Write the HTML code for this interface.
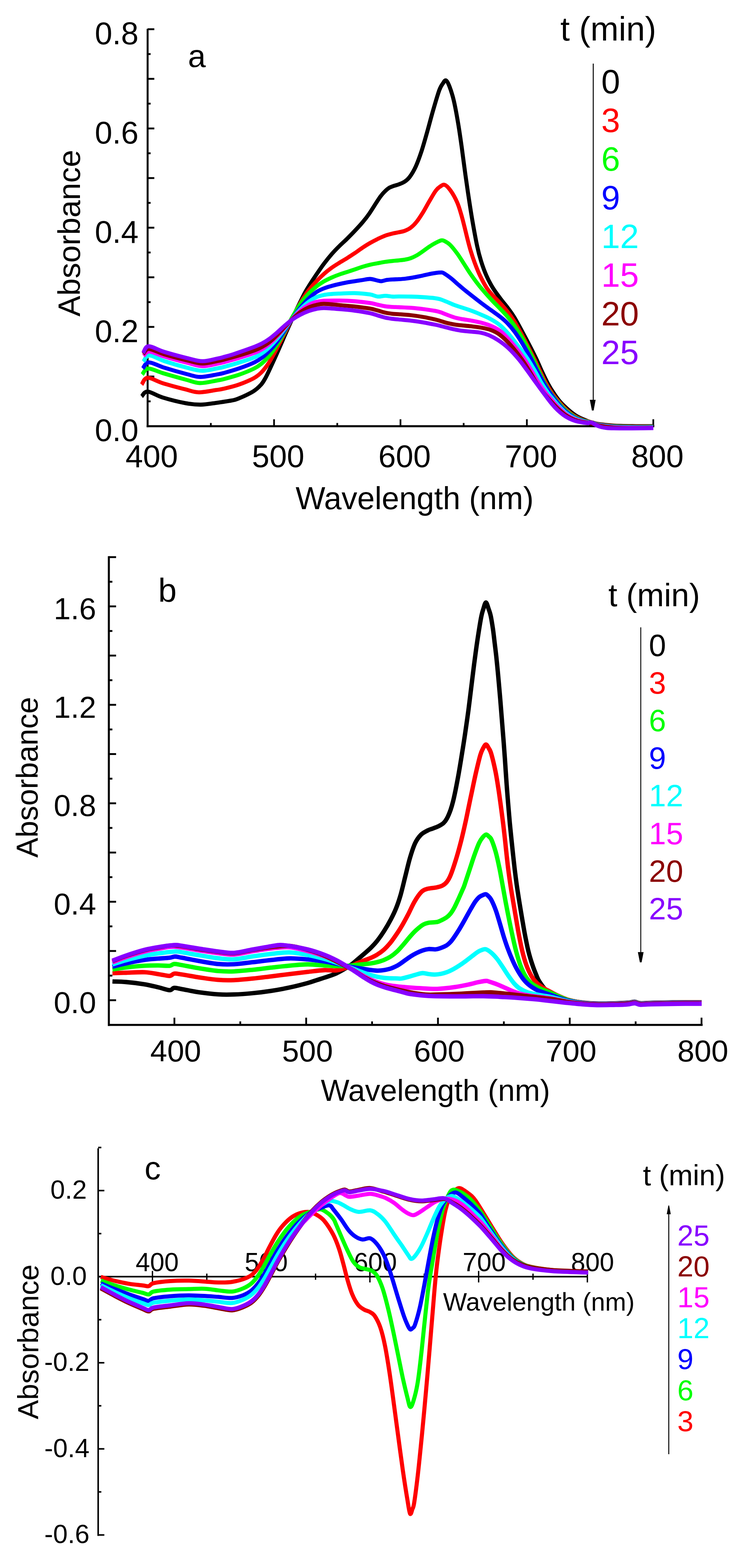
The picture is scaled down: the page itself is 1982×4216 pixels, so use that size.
<!DOCTYPE html>
<html><head><meta charset="utf-8"><title>Absorbance spectra</title>
<style>html,body{margin:0;padding:0;background:#fff;}svg{display:block;}</style></head>
<body><svg width="1982" height="4216" viewBox="0 0 1982 4216" font-family="Liberation Sans, Arial, sans-serif">
<rect width="1982" height="4216" fill="#fff"/>
<line x1="397.0" y1="77.5" x2="397.0" y2="1148.8" stroke="#000" stroke-width="5.2" stroke-linecap="butt"/>
<line x1="394.4" y1="1146.0" x2="1759.5" y2="1146.0" stroke="#000" stroke-width="5.4" stroke-linecap="butt"/>
<line x1="397.0" y1="1079.1" x2="405.0" y2="1079.1" stroke="#000" stroke-width="5.0" stroke-linecap="butt"/>
<line x1="397.0" y1="1012.4" x2="415.0" y2="1012.4" stroke="#000" stroke-width="5.0" stroke-linecap="butt"/>
<line x1="397.0" y1="945.7" x2="405.0" y2="945.7" stroke="#000" stroke-width="5.0" stroke-linecap="butt"/>
<line x1="397.0" y1="879.0" x2="415.0" y2="879.0" stroke="#000" stroke-width="5.0" stroke-linecap="butt"/>
<line x1="397.0" y1="812.3" x2="405.0" y2="812.3" stroke="#000" stroke-width="5.0" stroke-linecap="butt"/>
<line x1="397.0" y1="745.6" x2="415.0" y2="745.6" stroke="#000" stroke-width="5.0" stroke-linecap="butt"/>
<line x1="397.0" y1="678.9" x2="405.0" y2="678.9" stroke="#000" stroke-width="5.0" stroke-linecap="butt"/>
<line x1="397.0" y1="612.2" x2="415.0" y2="612.2" stroke="#000" stroke-width="5.0" stroke-linecap="butt"/>
<line x1="397.0" y1="545.5" x2="405.0" y2="545.5" stroke="#000" stroke-width="5.0" stroke-linecap="butt"/>
<line x1="397.0" y1="478.8" x2="415.0" y2="478.8" stroke="#000" stroke-width="5.0" stroke-linecap="butt"/>
<line x1="397.0" y1="412.1" x2="405.0" y2="412.1" stroke="#000" stroke-width="5.0" stroke-linecap="butt"/>
<line x1="397.0" y1="345.4" x2="415.0" y2="345.4" stroke="#000" stroke-width="5.0" stroke-linecap="butt"/>
<line x1="397.0" y1="278.7" x2="405.0" y2="278.7" stroke="#000" stroke-width="5.0" stroke-linecap="butt"/>
<line x1="397.0" y1="212.0" x2="415.0" y2="212.0" stroke="#000" stroke-width="5.0" stroke-linecap="butt"/>
<line x1="397.0" y1="145.3" x2="405.0" y2="145.3" stroke="#000" stroke-width="5.0" stroke-linecap="butt"/>
<line x1="397.0" y1="78.6" x2="415.0" y2="78.6" stroke="#000" stroke-width="5.0" stroke-linecap="butt"/>
<line x1="567.0" y1="1146.0" x2="567.0" y2="1137.3" stroke="#000" stroke-width="4.6" stroke-linecap="butt"/>
<line x1="737.0" y1="1146.0" x2="737.0" y2="1127.3" stroke="#000" stroke-width="4.6" stroke-linecap="butt"/>
<line x1="907.0" y1="1146.0" x2="907.0" y2="1137.3" stroke="#000" stroke-width="4.6" stroke-linecap="butt"/>
<line x1="1077.0" y1="1146.0" x2="1077.0" y2="1127.3" stroke="#000" stroke-width="4.6" stroke-linecap="butt"/>
<line x1="1246.9" y1="1146.0" x2="1246.9" y2="1137.3" stroke="#000" stroke-width="4.6" stroke-linecap="butt"/>
<line x1="1416.9" y1="1146.0" x2="1416.9" y2="1127.3" stroke="#000" stroke-width="4.6" stroke-linecap="butt"/>
<line x1="1586.9" y1="1146.0" x2="1586.9" y2="1137.3" stroke="#000" stroke-width="4.6" stroke-linecap="butt"/>
<line x1="1756.9" y1="1146.0" x2="1756.9" y2="1127.3" stroke="#000" stroke-width="4.6" stroke-linecap="butt"/>
<text x="372.5" y="1186.3" font-size="84.5" text-anchor="end" fill="#000" >0.0</text>
<text x="372.5" y="919.5" font-size="84.5" text-anchor="end" fill="#000" >0.2</text>
<text x="372.5" y="652.7" font-size="84.5" text-anchor="end" fill="#000" >0.4</text>
<text x="372.5" y="385.9" font-size="84.5" text-anchor="end" fill="#000" >0.6</text>
<text x="372.5" y="119.1" font-size="84.5" text-anchor="end" fill="#000" >0.8</text>
<text x="408.0" y="1255.5" font-size="84.5" text-anchor="middle" fill="#000" >400</text>
<text x="748.0" y="1255.5" font-size="84.5" text-anchor="middle" fill="#000" >500</text>
<text x="1088.0" y="1255.5" font-size="84.5" text-anchor="middle" fill="#000" >600</text>
<text x="1427.9" y="1255.5" font-size="84.5" text-anchor="middle" fill="#000" >700</text>
<text x="1767.9" y="1255.5" font-size="84.5" text-anchor="middle" fill="#000" >800</text>
<text x="1115.0" y="1369.0" font-size="84.5" text-anchor="middle" fill="#000" >Wavelength (nm)</text>
<text transform="translate(214.5,627) rotate(-90)" font-size="84" text-anchor="middle">Absorbance</text>
<text x="529.5" y="180.0" font-size="86.0" text-anchor="middle" fill="#000" >a</text>
<text x="1507.0" y="109.0" font-size="91.0" text-anchor="start" fill="#000" >t (min)</text>
<line x1="1595.4" y1="171.0" x2="1595.4" y2="1080.0" stroke="#000" stroke-width="2.6" stroke-linecap="butt"/>
<path d="M1586.2,1075 L1601.8,1075 L1596.4,1103.7 L1591.8,1103.7 Z" fill="#000"/>
<text x="1617.0" y="250.6" font-size="91.0" text-anchor="start" fill="#000000" >0</text>
<text x="1617.0" y="354.6" font-size="91.0" text-anchor="start" fill="#ff0000" >3</text>
<text x="1617.0" y="458.7" font-size="91.0" text-anchor="start" fill="#00ff00" >6</text>
<text x="1617.0" y="562.8" font-size="91.0" text-anchor="start" fill="#0000ff" >9</text>
<text x="1617.0" y="666.8" font-size="91.0" text-anchor="start" fill="#00ffff" >12</text>
<text x="1617.0" y="770.9" font-size="91.0" text-anchor="start" fill="#ff00ff" >15</text>
<text x="1617.0" y="874.9" font-size="91.0" text-anchor="start" fill="#8b0000" >20</text>
<text x="1617.0" y="979.0" font-size="91.0" text-anchor="start" fill="#8800ff" >25</text>
<path d="M381.0,1066.0 C383.7,1063.8 387.5,1052.3 397.0,1052.8 C406.5,1053.3 420.7,1063.6 437.8,1068.8 C454.8,1074.0 482.3,1080.9 499.4,1084.1 C516.4,1087.3 526.4,1088.1 540.0,1088.0 C553.6,1087.9 567.2,1085.1 580.9,1083.3 C594.7,1081.4 612.6,1078.8 622.6,1076.9 C632.6,1075.0 631.1,1075.9 640.9,1071.8 C650.7,1067.7 671.0,1058.5 681.1,1052.3 C691.3,1046.2 696.3,1040.6 701.6,1034.8 C707.0,1028.9 709.7,1023.7 713.3,1017.3 C717.0,1010.9 718.4,1007.7 723.6,996.7 C728.8,985.6 737.4,966.7 744.3,951.2 C751.3,935.8 759.8,915.8 765.0,903.8 C770.3,891.8 770.8,890.6 775.9,879.2 C781.1,867.8 788.9,850.3 795.9,835.6 C802.9,820.9 812.3,801.8 817.9,790.9 C823.6,780.1 824.3,779.3 829.8,770.5 C835.3,761.6 844.1,748.1 851.1,737.8 C858.1,727.6 864.6,718.0 871.5,708.8 C878.5,699.5 885.8,690.4 892.7,682.5 C899.6,674.6 906.1,668.1 912.8,661.5 C919.6,654.8 926.2,649.0 933.0,642.3 C939.7,635.7 946.4,629.0 953.4,621.5 C960.4,614.1 968.5,605.5 975.0,597.7 C981.6,589.9 984.8,586.3 992.8,574.7 C1000.8,563.2 1014.7,539.7 1023.0,528.5 C1031.3,517.4 1036.9,512.5 1042.5,507.9 C1048.1,503.2 1051.4,502.9 1056.4,500.8 C1061.4,498.8 1067.1,497.8 1072.4,495.8 C1077.7,493.7 1083.2,491.8 1088.1,488.5 C1093.0,485.2 1096.6,482.8 1101.6,476.0 C1106.7,469.2 1112.8,459.2 1118.1,447.7 C1123.4,436.1 1128.4,422.1 1133.5,406.8 C1138.5,391.4 1143.3,374.0 1148.6,355.5 C1153.8,337.0 1159.6,314.4 1165.1,295.6 C1170.5,276.8 1177.0,254.5 1181.3,242.6 C1185.7,230.7 1188.1,228.8 1191.0,224.4 C1194.0,220.0 1196.3,215.0 1199.2,216.1 C1202.1,217.2 1204.8,222.3 1208.3,231.3 C1211.8,240.3 1216.4,253.7 1220.3,270.2 C1224.2,286.6 1228.3,309.3 1231.8,330.1 C1235.4,350.9 1238.3,371.8 1241.6,395.1 C1244.8,418.4 1248.3,446.6 1251.6,469.9 C1254.8,493.2 1257.8,513.6 1261.1,535.0 C1264.3,556.3 1267.5,576.8 1271.2,598.0 C1274.9,619.1 1279.4,644.3 1283.2,661.7 C1286.9,679.2 1289.8,689.6 1293.9,702.7 C1298.0,715.9 1302.7,728.9 1307.9,740.6 C1313.0,752.4 1318.7,763.1 1325.0,773.4 C1331.2,783.6 1338.4,793.0 1345.3,802.2 C1352.1,811.4 1359.8,820.2 1366.2,828.7 C1372.5,837.2 1376.4,842.0 1383.2,853.3 C1390.1,864.7 1400.1,883.5 1407.2,896.7 C1414.3,909.8 1420.0,920.6 1425.9,932.1 C1431.8,943.5 1437.4,954.6 1442.6,965.5 C1447.8,976.4 1451.8,986.7 1456.9,997.6 C1462.0,1008.5 1467.8,1020.7 1473.2,1030.7 C1478.6,1040.7 1483.2,1048.4 1489.6,1057.6 C1495.9,1066.8 1501.8,1075.9 1511.4,1085.7 C1521.1,1095.5 1535.7,1108.7 1547.2,1116.4 C1558.7,1124.2 1572.3,1128.8 1580.2,1132.2 C1588.2,1135.5 1589.6,1135.3 1594.8,1136.6 C1600.0,1138.0 1602.2,1139.1 1611.4,1140.4 C1620.6,1141.7 1635.3,1143.5 1650.0,1144.4 C1664.8,1145.3 1682.2,1145.5 1700.0,1145.7 C1717.8,1146.0 1747.5,1146.0 1757.0,1146.0" fill="none" stroke="#000000" stroke-width="10.8" stroke-linejoin="round" stroke-linecap="butt"/>
<path d="M381.0,1034.0 C383.7,1030.9 387.6,1016.2 397.0,1015.6 C406.4,1015.0 420.6,1025.0 437.6,1030.3 C454.6,1035.5 483.0,1043.0 499.1,1047.1 C515.2,1051.2 520.4,1054.5 534.0,1054.8 C547.6,1055.1 570.0,1050.2 581.0,1048.7 C592.0,1047.1 589.9,1047.8 599.9,1045.5 C609.8,1043.2 627.3,1039.3 640.8,1034.6 C654.4,1029.9 671.2,1022.8 681.4,1017.4 C691.6,1012.0 695.4,1008.7 702.2,1002.0 C709.0,995.2 715.0,987.8 722.1,977.0 C729.1,966.1 737.3,950.5 744.5,936.9 C751.7,923.4 758.6,909.1 765.4,895.7 C772.2,882.3 778.6,869.7 785.6,856.3 C792.6,842.9 800.2,827.7 807.3,815.5 C814.4,803.3 821.0,792.9 828.3,783.0 C835.6,773.1 843.7,764.1 850.9,756.3 C858.2,748.5 864.9,742.1 871.8,736.0 C878.7,729.9 885.6,724.6 892.4,719.7 C899.2,714.8 905.8,710.8 912.6,706.6 C919.4,702.3 926.4,698.5 933.2,694.2 C940.0,690.0 946.4,685.8 953.4,681.1 C960.4,676.4 968.0,670.6 975.0,666.0 C982.0,661.4 988.6,657.2 995.4,653.3 C1002.2,649.4 1008.9,645.9 1015.8,642.5 C1022.7,639.2 1030.1,635.8 1036.9,633.3 C1043.6,630.8 1050.4,629.1 1056.3,627.7 C1062.3,626.2 1067.3,625.7 1072.6,624.5 C1078.0,623.3 1083.2,622.6 1088.5,620.6 C1093.8,618.6 1098.9,616.4 1104.3,612.4 C1109.6,608.4 1114.8,603.4 1120.3,596.5 C1125.9,589.6 1131.8,580.2 1137.5,571.1 C1143.1,562.0 1148.4,551.6 1154.1,542.0 C1159.8,532.4 1166.6,520.0 1171.5,513.4 C1176.3,506.7 1179.0,504.8 1183.1,502.1 C1187.2,499.3 1191.2,495.3 1196.0,497.0 C1200.8,498.7 1206.1,504.6 1211.7,512.4 C1217.3,520.2 1224.6,533.2 1229.3,543.9 C1234.1,554.6 1237.1,565.6 1240.3,576.5 C1243.6,587.4 1246.2,598.4 1249.0,609.4 C1251.8,620.4 1254.3,631.5 1257.1,642.4 C1259.9,653.4 1262.6,664.2 1266.0,675.2 C1269.3,686.2 1273.1,697.4 1277.3,708.4 C1281.4,719.4 1285.7,730.4 1290.9,741.2 C1296.1,752.0 1302.7,764.4 1308.4,773.3 C1314.2,782.2 1319.4,787.6 1325.5,794.5 C1331.6,801.4 1338.3,807.5 1344.9,814.8 C1351.5,822.0 1358.4,829.7 1364.9,838.1 C1371.4,846.4 1377.6,855.1 1383.8,864.9 C1389.9,874.7 1395.8,885.7 1401.8,896.9 C1407.9,908.1 1414.2,920.5 1420.1,931.9 C1426.0,943.4 1431.8,954.4 1437.1,965.4 C1442.5,976.4 1447.1,987.0 1452.3,997.9 C1457.5,1008.7 1463.0,1020.6 1468.4,1030.6 C1473.8,1040.5 1479.4,1049.6 1484.8,1057.5 C1490.1,1065.3 1494.1,1070.3 1500.4,1077.6 C1506.7,1084.9 1515.1,1094.2 1522.6,1101.1 C1530.0,1108.0 1537.9,1114.3 1545.2,1118.9 C1552.5,1123.5 1559.8,1126.3 1566.1,1128.7 C1572.4,1131.2 1578.3,1132.4 1583.1,1133.8 C1587.9,1135.2 1590.1,1135.9 1594.8,1137.1 C1599.5,1138.3 1602.2,1139.7 1611.4,1141.1 C1620.6,1142.4 1635.3,1144.3 1650.0,1145.3 C1664.8,1146.3 1682.2,1146.7 1700.0,1146.9 C1717.8,1147.1 1747.5,1146.8 1757.0,1146.8" fill="none" stroke="#ff0000" stroke-width="10.8" stroke-linejoin="round" stroke-linecap="butt"/>
<path d="M382.5,1007.0 C385.2,1004.3 389.1,991.4 398.5,990.8 C407.9,990.2 421.6,998.5 438.6,1003.5 C455.7,1008.6 484.2,1016.7 500.7,1021.1 C517.2,1025.5 523.9,1029.6 537.5,1030.0 C551.1,1030.4 571.7,1025.1 582.4,1023.3 C593.0,1021.5 591.5,1022.0 601.5,1019.4 C611.5,1016.8 628.7,1012.4 642.4,1007.7 C656.0,1002.9 673.0,996.0 683.2,991.0 C693.5,985.9 697.1,983.0 703.9,977.3 C710.8,971.6 717.5,964.7 724.3,956.6 C731.0,948.4 737.8,938.7 744.5,928.2 C751.3,917.6 757.7,905.8 764.7,893.2 C771.6,880.6 778.9,865.3 786.2,852.5 C793.5,839.7 800.9,826.8 808.2,816.3 C815.6,805.8 823.1,797.0 830.3,789.3 C837.5,781.5 844.7,775.2 851.6,769.7 C858.4,764.3 864.8,760.4 871.5,756.4 C878.3,752.5 885.2,749.3 892.1,746.2 C899.0,743.1 905.9,740.4 912.8,738.0 C919.6,735.5 926.4,733.5 933.2,731.3 C940.0,729.1 946.8,727.0 953.7,724.7 C960.6,722.4 967.7,719.5 974.7,717.4 C981.6,715.2 988.6,713.3 995.4,711.7 C1002.2,710.1 1008.8,709.0 1015.6,707.8 C1022.5,706.5 1029.8,705.1 1036.6,704.0 C1043.3,703.0 1050.3,702.3 1056.3,701.6 C1062.3,701.0 1067.2,700.7 1072.6,700.1 C1078.0,699.5 1083.5,699.1 1088.8,698.1 C1094.2,697.1 1099.4,696.1 1104.8,694.1 C1110.2,692.2 1115.7,689.5 1121.2,686.4 C1126.6,683.3 1132.0,679.3 1137.6,675.4 C1143.1,671.5 1149.0,666.8 1154.5,663.2 C1160.0,659.5 1165.3,656.3 1170.7,653.5 C1176.1,650.7 1182.7,647.2 1186.8,646.3 C1190.9,645.4 1191.5,646.1 1195.5,648.1 C1199.5,650.2 1204.8,652.8 1210.6,658.5 C1216.4,664.2 1224.0,674.1 1230.1,682.4 C1236.2,690.7 1241.4,699.7 1247.1,708.4 C1252.8,717.2 1258.5,726.6 1264.1,734.8 C1269.7,743.0 1275.0,750.4 1280.5,757.6 C1285.9,764.9 1290.0,770.1 1296.8,778.0 C1303.5,786.0 1312.8,796.5 1320.9,805.2 C1328.9,813.9 1337.9,822.6 1345.2,830.3 C1352.5,838.0 1358.1,843.5 1364.7,851.3 C1371.2,859.0 1376.9,865.9 1384.4,876.8 C1391.8,887.7 1400.9,901.9 1409.2,916.6 C1417.5,931.4 1427.3,951.6 1434.0,965.2 C1440.7,978.7 1444.0,987.0 1449.1,997.9 C1454.3,1008.8 1459.6,1020.7 1465.0,1030.6 C1470.4,1040.5 1475.4,1048.7 1481.5,1057.3 C1487.5,1065.9 1494.5,1074.5 1501.4,1082.3 C1508.3,1090.2 1515.6,1098.0 1522.9,1104.4 C1530.2,1110.8 1537.9,1116.5 1545.1,1120.8 C1552.3,1125.1 1559.8,1127.7 1566.1,1129.9 C1572.4,1132.2 1578.3,1133.2 1583.1,1134.4 C1587.8,1135.7 1590.1,1136.4 1594.8,1137.6 C1599.5,1138.8 1602.2,1140.3 1611.4,1141.8 C1620.6,1143.2 1635.3,1145.2 1650.0,1146.2 C1664.8,1147.2 1682.2,1147.6 1700.0,1147.8 C1717.8,1148.0 1747.5,1147.5 1757.0,1147.5" fill="none" stroke="#00ff00" stroke-width="10.8" stroke-linejoin="round" stroke-linecap="butt"/>
<path d="M384.0,990.8 C386.7,988.0 390.6,974.8 400.0,974.3 C409.4,973.8 423.2,982.8 440.2,988.1 C457.3,993.4 485.9,1001.6 502.3,1005.9 C518.8,1010.1 525.4,1013.4 539.0,1013.5 C552.6,1013.6 573.2,1008.6 583.9,1006.7 C594.5,1004.9 592.8,1005.3 602.9,1002.6 C612.9,999.8 630.5,994.8 644.1,990.1 C657.8,985.4 674.4,979.0 684.6,974.1 C694.9,969.3 698.8,966.2 705.6,961.0 C712.4,955.7 719.1,949.3 725.6,942.4 C732.1,935.6 737.9,928.6 744.5,919.7 C751.1,910.9 758.2,899.9 765.1,889.4 C772.1,878.8 779.3,866.9 786.3,856.7 C793.3,846.5 799.8,837.3 807.2,828.2 C814.6,819.0 823.1,809.3 830.6,802.1 C838.0,794.8 844.9,789.3 851.7,784.8 C858.6,780.3 864.8,777.8 871.5,775.2 C878.2,772.5 885.1,770.7 892.0,768.7 C898.8,766.8 905.8,765.1 912.7,763.6 C919.5,762.0 926.4,760.7 933.2,759.4 C940.1,758.2 947.0,757.2 953.9,756.1 C960.8,755.0 967.6,754.0 974.5,753.0 C981.4,752.0 988.3,749.8 995.2,750.0 C1002.1,750.2 1010.7,753.5 1015.9,754.5 C1021.0,755.5 1021.9,756.3 1026.0,756.0 C1030.1,755.7 1035.1,753.5 1040.2,752.7 C1045.2,751.9 1050.9,751.6 1056.3,751.3 C1061.7,751.0 1067.2,751.0 1072.6,750.7 C1078.0,750.4 1083.4,750.1 1088.9,749.5 C1094.3,748.9 1099.7,748.1 1105.2,747.2 C1110.6,746.3 1116.1,745.2 1121.5,744.1 C1126.9,743.0 1132.3,741.9 1137.8,740.7 C1143.2,739.5 1148.7,738.1 1154.1,737.0 C1159.6,735.9 1165.0,734.8 1170.5,734.1 C1175.9,733.4 1183.0,732.6 1186.8,732.7 C1190.6,732.8 1189.0,731.9 1193.5,734.6 C1197.9,737.2 1207.3,743.7 1213.6,748.7 C1219.9,753.6 1225.6,759.3 1231.2,764.2 C1236.8,769.0 1241.9,773.4 1247.3,777.9 C1252.8,782.3 1256.2,785.0 1263.8,791.0 C1271.4,797.0 1283.6,806.6 1293.0,813.7 C1302.4,820.9 1311.5,827.3 1320.2,833.7 C1328.9,840.0 1337.8,845.9 1345.1,851.8 C1352.5,857.6 1357.7,861.9 1364.3,868.7 C1370.8,875.5 1377.4,883.2 1384.3,892.6 C1391.2,902.0 1398.5,913.1 1405.8,925.2 C1413.2,937.3 1422.0,953.3 1428.6,965.4 C1435.2,977.5 1439.9,987.5 1445.3,997.9 C1450.7,1008.2 1455.7,1018.1 1461.2,1027.7 C1466.8,1037.3 1471.8,1045.7 1478.7,1055.5 C1485.6,1065.4 1495.1,1078.0 1502.5,1086.7 C1509.9,1095.4 1516.0,1101.6 1523.1,1107.6 C1530.2,1113.6 1537.8,1118.8 1544.9,1122.7 C1552.1,1126.7 1559.8,1129.1 1566.1,1131.1 C1572.5,1133.2 1578.2,1133.9 1583.0,1135.1 C1587.8,1136.3 1590.0,1136.9 1594.8,1138.1 C1599.5,1139.4 1602.2,1140.9 1611.5,1142.4 C1620.7,1144.0 1635.3,1146.1 1650.1,1147.2 C1664.8,1148.2 1682.2,1148.5 1700.0,1148.7 C1717.8,1148.9 1747.5,1148.3 1757.0,1148.2" fill="none" stroke="#0000ff" stroke-width="10.8" stroke-linejoin="round" stroke-linecap="butt"/>
<path d="M385.5,972.3 C388.2,969.5 392.1,955.9 401.5,955.7 C410.9,955.5 424.9,965.5 441.9,971.0 C459.0,976.6 486.8,984.7 503.9,989.1 C521.0,993.4 530.9,996.8 544.5,997.0 C558.1,997.2 575.4,992.1 585.4,990.3 C595.4,988.5 594.3,988.7 604.4,986.0 C614.5,983.3 632.2,978.4 645.8,974.0 C659.5,969.7 676.1,964.1 686.3,959.9 C696.4,955.6 700.0,953.1 706.6,948.5 C713.2,943.9 719.5,938.4 725.8,932.2 C732.1,926.0 738.1,919.4 744.6,911.6 C751.1,903.7 758.1,894.3 765.0,885.2 C772.0,876.0 779.3,865.6 786.3,856.8 C793.3,848.0 799.7,840.0 807.2,832.3 C814.6,824.7 823.5,816.5 830.8,810.9 C838.2,805.4 844.5,801.9 851.2,798.9 C858.0,795.9 864.7,794.4 871.4,793.0 C878.2,791.6 885.1,791.1 891.9,790.5 C898.8,789.8 902.3,789.7 912.6,789.3 C922.9,789.0 940.2,787.7 953.9,788.1 C967.6,788.5 984.4,790.1 994.7,791.7 C1005.0,793.2 1008.8,796.8 1015.8,797.4 C1022.8,798.0 1029.7,795.3 1036.4,795.3 C1043.2,795.3 1050.3,797.2 1056.3,797.5 C1062.3,797.8 1064.5,797.2 1072.6,797.2 C1080.7,797.2 1094.3,797.2 1105.2,797.5 C1116.1,797.8 1126.9,798.3 1137.8,799.0 C1148.6,799.7 1162.5,800.8 1170.3,801.8 C1178.1,802.8 1179.7,803.3 1184.7,804.8 C1189.8,806.4 1194.3,808.5 1200.5,811.0 C1206.7,813.6 1215.1,817.5 1221.7,820.1 C1228.3,822.6 1232.6,823.7 1239.9,826.2 C1247.3,828.6 1256.9,831.5 1265.7,834.7 C1274.6,838.0 1283.9,841.7 1292.9,845.6 C1301.8,849.4 1311.0,853.2 1319.5,857.9 C1328.1,862.6 1336.2,867.4 1344.2,874.0 C1352.1,880.6 1359.0,887.9 1367.4,897.5 C1375.8,907.1 1386.0,920.4 1394.7,931.8 C1403.4,943.2 1412.2,954.8 1419.6,965.9 C1426.9,977.0 1432.8,987.5 1439.0,998.3 C1445.2,1009.0 1450.7,1020.6 1456.6,1030.4 C1462.5,1040.3 1469.9,1050.9 1474.4,1057.3 C1478.9,1063.6 1478.8,1063.0 1483.6,1068.7 C1488.3,1074.4 1496.4,1084.4 1502.9,1091.4 C1509.5,1098.4 1516.1,1105.3 1523.0,1110.9 C1530.0,1116.4 1537.6,1121.1 1544.8,1124.7 C1552.0,1128.3 1559.8,1130.5 1566.1,1132.3 C1572.5,1134.1 1578.2,1134.7 1583.0,1135.7 C1587.8,1136.8 1590.0,1137.4 1594.7,1138.7 C1599.5,1139.9 1602.3,1141.6 1611.5,1143.1 C1620.7,1144.7 1635.3,1147.0 1650.1,1148.1 C1664.8,1149.2 1682.2,1149.4 1700.0,1149.6 C1717.8,1149.8 1747.5,1149.1 1757.0,1149.0" fill="none" stroke="#00ffff" stroke-width="10.8" stroke-linejoin="round" stroke-linecap="butt"/>
<path d="M386.0,957.0 C388.5,955.0 391.6,944.7 401.0,945.0 C410.4,945.3 425.1,953.7 442.3,958.8 C459.5,963.9 487.1,971.3 504.2,975.6 C521.3,979.9 531.4,984.3 545.0,984.6 C558.6,984.9 575.8,979.5 585.8,977.6 C595.8,975.6 595.0,975.8 605.0,973.1 C615.1,970.4 632.6,965.6 646.2,961.4 C659.8,957.2 676.5,951.9 686.5,948.0 C696.5,944.2 699.6,942.2 706.1,938.2 C712.6,934.2 719.0,929.3 725.3,923.9 C731.6,918.4 737.3,912.6 744.0,905.5 C750.7,898.4 758.6,889.1 765.5,881.3 C772.4,873.4 778.5,865.8 785.5,858.2 C792.6,850.5 800.3,841.8 807.8,835.3 C815.4,828.8 823.5,823.3 830.7,819.4 C837.9,815.5 844.1,813.5 850.8,811.8 C857.6,810.0 861.1,809.3 871.4,808.7 C881.7,808.1 898.8,808.0 912.6,808.2 C926.3,808.4 940.2,809.0 953.9,810.0 C967.6,811.1 984.5,813.2 994.8,814.7 C1005.2,816.3 1009.1,817.9 1016.0,819.4 C1022.9,820.9 1029.8,822.6 1036.5,823.6 C1043.2,824.6 1050.3,825.0 1056.3,825.4 C1062.3,825.8 1064.5,825.6 1072.6,826.0 C1080.7,826.4 1094.3,826.9 1105.2,827.7 C1116.0,828.6 1126.9,829.6 1137.8,831.0 C1148.6,832.4 1162.5,834.5 1170.3,835.9 C1178.2,837.4 1179.7,838.1 1184.8,839.7 C1189.8,841.3 1194.6,843.5 1200.7,845.8 C1206.8,848.1 1215.0,851.4 1221.5,853.4 C1228.1,855.4 1232.7,856.2 1240.1,857.6 C1247.5,859.0 1257.1,860.1 1265.9,861.7 C1274.6,863.3 1283.7,865.0 1292.7,867.3 C1301.6,869.7 1311.1,872.3 1319.6,876.0 C1328.2,879.6 1337.1,884.2 1344.2,889.1 C1351.2,893.9 1355.1,897.9 1361.9,905.1 C1368.8,912.3 1377.2,922.2 1385.3,932.4 C1393.4,942.5 1402.9,954.7 1410.4,965.7 C1418.0,976.7 1424.1,987.5 1430.5,998.3 C1436.9,1009.0 1442.7,1020.5 1449.0,1030.4 C1455.2,1040.2 1462.2,1049.7 1468.0,1057.1 C1473.7,1064.6 1477.6,1068.5 1483.4,1075.0 C1489.2,1081.5 1496.1,1089.6 1502.7,1096.1 C1509.2,1102.6 1515.8,1109.0 1522.8,1114.1 C1529.8,1119.2 1537.4,1123.5 1544.6,1126.7 C1551.9,1129.9 1559.7,1131.9 1566.1,1133.5 C1572.5,1135.1 1578.2,1135.5 1583.0,1136.4 C1587.7,1137.4 1590.0,1138.0 1594.7,1139.2 C1599.5,1140.4 1602.3,1142.2 1611.5,1143.8 C1620.8,1145.5 1635.3,1147.9 1650.1,1149.0 C1664.8,1150.1 1682.2,1150.4 1700.0,1150.5 C1717.8,1150.6 1747.5,1149.9 1757.0,1149.8" fill="none" stroke="#ff00ff" stroke-width="10.8" stroke-linejoin="round" stroke-linecap="butt"/>
<path d="M385.2,952.0 C387.7,949.7 390.5,937.8 400.0,938.0 C409.4,938.2 424.8,947.7 442.0,952.9 C459.3,958.1 486.6,965.1 503.7,969.2 C520.7,973.3 530.9,977.1 544.5,977.4 C558.1,977.7 575.2,972.6 585.2,970.8 C595.2,968.9 594.6,968.9 604.6,966.3 C614.7,963.6 632.2,959.0 645.6,954.9 C659.1,950.8 675.6,945.6 685.5,941.8 C695.5,938.1 698.9,936.1 705.5,932.4 C712.0,928.7 718.2,924.6 724.7,919.6 C731.1,914.6 737.1,909.1 743.9,902.4 C750.7,895.7 758.6,886.7 765.6,879.3 C772.6,872.0 778.9,864.8 785.9,858.1 C792.9,851.5 800.1,844.8 807.5,839.5 C815.0,834.3 823.2,829.6 830.5,826.4 C837.7,823.1 844.0,821.6 850.8,820.0 C857.6,818.5 861.0,816.9 871.3,817.0 C881.6,817.1 898.8,819.1 912.6,820.3 C926.3,821.6 940.2,822.7 953.9,824.2 C967.6,825.8 984.6,828.0 994.9,829.7 C1005.2,831.5 1008.8,833.0 1015.7,834.8 C1022.7,836.7 1029.9,839.3 1036.6,840.8 C1043.4,842.3 1050.3,843.1 1056.3,843.8 C1062.3,844.5 1064.5,844.2 1072.6,844.8 C1080.7,845.4 1094.3,846.3 1105.1,847.5 C1116.0,848.7 1126.9,850.3 1137.7,852.2 C1148.6,854.1 1162.4,857.1 1170.2,858.9 C1178.1,860.7 1179.9,861.6 1185.0,863.1 C1190.0,864.6 1194.7,866.4 1200.8,868.0 C1206.8,869.5 1214.8,871.2 1221.4,872.3 C1227.9,873.5 1232.6,873.9 1240.0,874.7 C1247.4,875.5 1257.2,876.2 1266.0,877.2 C1274.8,878.2 1283.7,879.0 1292.7,880.7 C1301.6,882.4 1311.1,884.0 1319.6,887.2 C1328.1,890.4 1334.6,893.0 1343.7,899.9 C1352.7,906.7 1363.7,917.4 1373.6,928.4 C1383.5,939.4 1394.8,954.2 1403.2,965.9 C1411.6,977.5 1417.4,987.5 1424.1,998.2 C1430.8,1009.0 1436.9,1020.6 1443.3,1030.4 C1449.7,1040.3 1455.9,1048.9 1462.5,1057.1 C1469.1,1065.4 1476.2,1073.0 1482.8,1080.2 C1489.4,1087.4 1495.4,1094.0 1502.1,1100.2 C1508.8,1106.3 1515.6,1112.3 1522.7,1117.0 C1529.8,1121.8 1537.3,1125.5 1544.5,1128.5 C1551.8,1131.4 1559.7,1133.1 1566.1,1134.5 C1572.5,1135.9 1578.2,1136.1 1583.0,1137.0 C1587.7,1137.8 1589.9,1138.4 1594.7,1139.6 C1599.5,1140.9 1602.3,1142.7 1611.6,1144.4 C1620.8,1146.1 1635.3,1148.7 1650.1,1149.8 C1664.8,1151.0 1682.2,1151.2 1700.0,1151.3 C1717.8,1151.4 1747.5,1150.5 1757.0,1150.4" fill="none" stroke="#8b0000" stroke-width="10.8" stroke-linejoin="round" stroke-linecap="butt"/>
<path d="M385.0,949.5 C387.4,946.4 390.0,931.6 399.3,931.0 C408.7,930.4 423.9,940.7 441.3,946.0 C458.7,951.3 486.5,958.8 503.7,963.0 C520.9,967.2 531.0,971.0 544.5,971.2 C558.0,971.4 574.9,966.1 585.0,964.0 C595.0,962.0 598.0,960.9 604.9,959.1 C611.9,957.2 619.8,954.9 626.6,952.8 C633.3,950.7 635.7,949.9 645.4,946.4 C655.1,943.0 675.0,935.9 684.9,932.2 C694.7,928.4 698.0,927.1 704.5,923.6 C711.0,920.2 717.5,916.2 724.1,911.4 C730.7,906.7 737.1,901.1 744.1,895.1 C751.0,889.1 758.6,881.5 765.7,875.5 C772.7,869.5 779.4,863.9 786.3,859.1 C793.1,854.3 799.4,850.5 806.8,846.7 C814.1,842.9 822.9,838.9 830.3,836.2 C837.6,833.5 844.0,831.9 850.8,830.6 C857.7,829.3 861.0,828.3 871.3,828.4 C881.6,828.5 898.8,830.0 912.5,831.2 C926.3,832.3 940.3,833.5 953.9,835.3 C967.6,837.1 984.2,839.8 994.6,842.0 C1004.9,844.2 1009.1,846.3 1016.1,848.3 C1023.1,850.4 1029.9,852.8 1036.6,854.3 C1043.3,855.8 1050.3,856.6 1056.3,857.4 C1062.3,858.2 1064.5,858.2 1072.6,859.0 C1080.7,859.8 1094.3,860.8 1105.1,862.1 C1116.0,863.4 1126.8,865.0 1137.7,866.8 C1148.6,868.6 1162.5,871.4 1170.4,873.0 C1178.3,874.6 1179.8,875.2 1184.9,876.4 C1189.9,877.7 1194.7,879.0 1200.7,880.5 C1206.8,882.0 1214.6,884.1 1221.2,885.5 C1227.8,887.0 1232.8,888.2 1240.2,889.2 C1247.7,890.2 1257.3,890.8 1266.0,891.6 C1274.7,892.5 1284.4,892.9 1292.5,894.5 C1300.6,896.1 1306.6,897.7 1314.5,901.1 C1322.5,904.6 1331.3,909.1 1340.2,915.0 C1349.0,920.9 1358.4,927.8 1367.5,936.3 C1376.7,944.8 1386.9,956.3 1395.1,966.0 C1403.4,975.8 1409.9,985.5 1416.8,994.8 C1423.7,1004.1 1430.1,1013.4 1436.4,1022.1 C1442.7,1030.8 1449.1,1039.5 1454.6,1046.9 C1460.0,1054.4 1464.2,1060.1 1469.1,1066.6 C1474.0,1073.0 1479.0,1079.7 1484.0,1085.7 C1489.0,1091.7 1494.2,1097.5 1499.3,1102.5 C1504.4,1107.4 1509.2,1111.5 1514.5,1115.3 C1519.8,1119.2 1525.7,1122.7 1531.1,1125.4 C1536.6,1128.2 1541.8,1130.1 1547.2,1131.8 C1552.7,1133.5 1558.4,1134.6 1563.9,1135.5 C1569.4,1136.5 1575.9,1137.5 1580.3,1137.6 C1584.7,1137.7 1586.3,1135.0 1590.2,1136.0 C1594.1,1137.0 1599.3,1141.5 1603.8,1143.5 C1608.3,1145.6 1612.8,1147.2 1617.2,1148.4 C1621.5,1149.5 1624.5,1150.0 1629.9,1150.5 C1635.4,1151.1 1638.3,1151.4 1650.0,1151.6 C1661.7,1151.8 1682.2,1151.9 1700.0,1151.8 C1717.8,1151.7 1747.5,1151.1 1757.0,1151.0" fill="none" stroke="#8800ff" stroke-width="10.8" stroke-linejoin="round" stroke-linecap="butt"/>
<line x1="292.7" y1="1495.6" x2="292.7" y2="2758.6" stroke="#000" stroke-width="5.5" stroke-linecap="butt"/>
<line x1="290.0" y1="2755.8" x2="1889.6" y2="2755.8" stroke="#000" stroke-width="5.5" stroke-linecap="butt"/>
<line x1="292.7" y1="2689.4" x2="312.2" y2="2689.4" stroke="#000" stroke-width="5.0" stroke-linecap="butt"/>
<line x1="292.7" y1="2623.2" x2="302.2" y2="2623.2" stroke="#000" stroke-width="5.0" stroke-linecap="butt"/>
<line x1="292.7" y1="2557.0" x2="312.2" y2="2557.0" stroke="#000" stroke-width="5.0" stroke-linecap="butt"/>
<line x1="292.7" y1="2490.8" x2="302.2" y2="2490.8" stroke="#000" stroke-width="5.0" stroke-linecap="butt"/>
<line x1="292.7" y1="2424.6" x2="312.2" y2="2424.6" stroke="#000" stroke-width="5.0" stroke-linecap="butt"/>
<line x1="292.7" y1="2358.5" x2="302.2" y2="2358.5" stroke="#000" stroke-width="5.0" stroke-linecap="butt"/>
<line x1="292.7" y1="2292.3" x2="312.2" y2="2292.3" stroke="#000" stroke-width="5.0" stroke-linecap="butt"/>
<line x1="292.7" y1="2226.1" x2="302.2" y2="2226.1" stroke="#000" stroke-width="5.0" stroke-linecap="butt"/>
<line x1="292.7" y1="2159.9" x2="312.2" y2="2159.9" stroke="#000" stroke-width="5.0" stroke-linecap="butt"/>
<line x1="292.7" y1="2093.7" x2="302.2" y2="2093.7" stroke="#000" stroke-width="5.0" stroke-linecap="butt"/>
<line x1="292.7" y1="2027.5" x2="312.2" y2="2027.5" stroke="#000" stroke-width="5.0" stroke-linecap="butt"/>
<line x1="292.7" y1="1961.3" x2="302.2" y2="1961.3" stroke="#000" stroke-width="5.0" stroke-linecap="butt"/>
<line x1="292.7" y1="1895.1" x2="312.2" y2="1895.1" stroke="#000" stroke-width="5.0" stroke-linecap="butt"/>
<line x1="292.7" y1="1828.9" x2="302.2" y2="1828.9" stroke="#000" stroke-width="5.0" stroke-linecap="butt"/>
<line x1="292.7" y1="1762.7" x2="312.2" y2="1762.7" stroke="#000" stroke-width="5.0" stroke-linecap="butt"/>
<line x1="292.7" y1="1696.6" x2="302.2" y2="1696.6" stroke="#000" stroke-width="5.0" stroke-linecap="butt"/>
<line x1="292.7" y1="1630.4" x2="312.2" y2="1630.4" stroke="#000" stroke-width="5.0" stroke-linecap="butt"/>
<line x1="292.7" y1="1564.2" x2="302.2" y2="1564.2" stroke="#000" stroke-width="5.0" stroke-linecap="butt"/>
<line x1="292.7" y1="1498.0" x2="312.2" y2="1498.0" stroke="#000" stroke-width="5.0" stroke-linecap="butt"/>
<line x1="469.0" y1="2755.8" x2="469.0" y2="2736.3" stroke="#000" stroke-width="4.8" stroke-linecap="butt"/>
<line x1="646.2" y1="2755.8" x2="646.2" y2="2746.3" stroke="#000" stroke-width="4.8" stroke-linecap="butt"/>
<line x1="823.4" y1="2755.8" x2="823.4" y2="2736.3" stroke="#000" stroke-width="4.8" stroke-linecap="butt"/>
<line x1="1000.6" y1="2755.8" x2="1000.6" y2="2746.3" stroke="#000" stroke-width="4.8" stroke-linecap="butt"/>
<line x1="1177.8" y1="2755.8" x2="1177.8" y2="2736.3" stroke="#000" stroke-width="4.8" stroke-linecap="butt"/>
<line x1="1355.0" y1="2755.8" x2="1355.0" y2="2746.3" stroke="#000" stroke-width="4.8" stroke-linecap="butt"/>
<line x1="1532.2" y1="2755.8" x2="1532.2" y2="2736.3" stroke="#000" stroke-width="4.8" stroke-linecap="butt"/>
<line x1="1709.4" y1="2755.8" x2="1709.4" y2="2746.3" stroke="#000" stroke-width="4.8" stroke-linecap="butt"/>
<line x1="1886.6" y1="2755.8" x2="1886.6" y2="2736.3" stroke="#000" stroke-width="4.8" stroke-linecap="butt"/>
<text x="258.5" y="2723.9" font-size="82.0" text-anchor="end" fill="#000" >0.0</text>
<text x="258.5" y="2459.1" font-size="82.0" text-anchor="end" fill="#000" >0.4</text>
<text x="258.5" y="2194.4" font-size="82.0" text-anchor="end" fill="#000" >0.8</text>
<text x="258.5" y="1929.6" font-size="82.0" text-anchor="end" fill="#000" >1.2</text>
<text x="258.5" y="1664.9" font-size="82.0" text-anchor="end" fill="#000" >1.6</text>
<text x="472.5" y="2853.5" font-size="82.0" text-anchor="middle" fill="#000" >400</text>
<text x="826.9" y="2853.5" font-size="82.0" text-anchor="middle" fill="#000" >500</text>
<text x="1181.3" y="2853.5" font-size="82.0" text-anchor="middle" fill="#000" >600</text>
<text x="1535.7" y="2853.5" font-size="82.0" text-anchor="middle" fill="#000" >700</text>
<text x="1890.1" y="2853.5" font-size="82.0" text-anchor="middle" fill="#000" >800</text>
<text x="1171.0" y="2960.4" font-size="81.4" text-anchor="middle" fill="#000" >Wavelength (nm)</text>
<text transform="translate(101,2090) rotate(-90)" font-size="81" text-anchor="middle">Absorbance</text>
<text x="450.2" y="1617.5" font-size="89.0" text-anchor="middle" fill="#000" >b</text>
<text x="1636.0" y="1630.1" font-size="87.0" text-anchor="start" fill="#000" >t (min)</text>
<line x1="1723.2" y1="1686.8" x2="1723.2" y2="2565.0" stroke="#000" stroke-width="2.4" stroke-linecap="butt"/>
<path d="M1715.4,2560 L1730.8,2560 L1725.4,2587.6 L1720.8,2587.6 Z" fill="#000"/>
<text x="1745.0" y="1763.5" font-size="83.0" text-anchor="start" fill="#000000" >0</text>
<text x="1745.0" y="1864.7" font-size="83.0" text-anchor="start" fill="#ff0000" >3</text>
<text x="1745.0" y="1965.9" font-size="83.0" text-anchor="start" fill="#00ff00" >6</text>
<text x="1745.0" y="2067.1" font-size="83.0" text-anchor="start" fill="#0000ff" >9</text>
<text x="1745.0" y="2168.3" font-size="83.0" text-anchor="start" fill="#00ffff" >12</text>
<text x="1745.0" y="2269.5" font-size="83.0" text-anchor="start" fill="#ff00ff" >15</text>
<text x="1745.0" y="2370.7" font-size="83.0" text-anchor="start" fill="#8b0000" >20</text>
<text x="1745.0" y="2471.9" font-size="83.0" text-anchor="start" fill="#8800ff" >25</text>
<path d="M302.4,2638.9 C308.6,2639.2 325.1,2639.2 339.4,2640.5 C353.8,2641.7 374.2,2644.2 388.7,2646.6 C403.2,2649.0 415.0,2652.2 426.2,2654.8 C437.5,2657.5 449.0,2662.2 456.0,2662.4 C463.0,2662.6 463.1,2656.7 468.4,2656.2 C473.7,2655.7 476.5,2657.4 488.1,2659.4 C499.7,2661.4 521.4,2666.0 537.9,2668.4 C554.5,2670.7 572.0,2672.7 587.3,2673.7 C602.5,2674.6 614.2,2674.5 629.5,2673.9 C644.7,2673.4 662.4,2672.1 678.9,2670.5 C695.4,2668.9 712.0,2666.8 728.5,2664.3 C745.0,2661.8 761.5,2658.9 778.0,2655.3 C794.5,2651.8 815.1,2646.5 827.5,2643.1 C839.9,2639.8 845.0,2637.5 852.5,2635.1 C859.9,2632.7 863.5,2631.8 872.2,2628.7 C881.0,2625.7 893.8,2622.3 905.1,2616.9 C916.4,2611.6 930.6,2603.0 939.9,2596.9 C949.3,2590.7 954.6,2585.4 961.1,2580.1 C967.5,2574.8 972.8,2570.3 978.8,2565.0 C984.8,2559.8 991.0,2554.6 997.0,2548.7 C1002.9,2542.9 1008.2,2537.5 1014.2,2529.9 C1020.2,2522.3 1026.9,2512.9 1033.0,2503.2 C1039.2,2493.5 1045.8,2482.0 1051.2,2471.7 C1056.6,2461.5 1061.1,2452.4 1065.4,2441.5 C1069.8,2430.7 1073.2,2420.6 1077.3,2406.5 C1081.3,2392.5 1085.6,2373.7 1089.7,2357.3 C1093.9,2340.9 1097.8,2323.0 1102.2,2307.9 C1106.6,2292.9 1111.4,2277.8 1116.3,2267.2 C1121.3,2256.7 1126.3,2250.4 1131.9,2244.6 C1137.6,2238.9 1145.0,2235.7 1150.0,2233.0 C1155.0,2230.3 1156.9,2230.2 1161.7,2228.4 C1166.5,2226.5 1173.6,2224.3 1178.8,2221.7 C1184.0,2219.1 1189.1,2216.2 1192.9,2212.8 C1196.7,2209.4 1198.6,2207.0 1201.7,2201.1 C1204.8,2195.3 1208.8,2185.7 1211.6,2177.9 C1214.3,2170.2 1216.2,2163.6 1218.4,2154.8 C1220.6,2146.0 1222.4,2137.6 1225.0,2125.0 C1227.5,2112.3 1230.9,2094.8 1233.7,2078.9 C1236.5,2063.0 1239.1,2047.2 1241.9,2029.5 C1244.8,2011.8 1247.9,1992.5 1250.8,1972.6 C1253.7,1952.8 1256.8,1931.3 1259.6,1910.6 C1262.3,1889.9 1264.7,1869.1 1267.3,1848.4 C1269.9,1827.7 1272.3,1807.0 1275.0,1786.3 C1277.8,1765.6 1280.4,1744.9 1283.5,1724.2 C1286.6,1703.6 1290.8,1676.5 1293.5,1662.2 C1296.2,1647.9 1297.3,1645.4 1299.5,1638.4 C1301.8,1631.3 1304.3,1620.0 1306.8,1620.0 C1309.3,1620.0 1312.1,1632.1 1314.3,1638.1 C1316.4,1644.1 1317.8,1647.1 1319.7,1656.0 C1321.6,1664.9 1323.9,1679.6 1325.7,1691.4 C1327.4,1703.3 1328.7,1715.2 1330.1,1727.1 C1331.6,1739.0 1333.0,1751.0 1334.4,1762.9 C1335.7,1774.9 1336.9,1786.7 1338.0,1798.6 C1339.2,1810.5 1340.1,1820.9 1341.3,1834.3 C1342.5,1847.7 1344.0,1864.9 1345.2,1878.8 C1346.3,1892.7 1347.3,1904.7 1348.3,1917.6 C1349.3,1930.5 1350.4,1943.5 1351.4,1956.5 C1352.4,1969.5 1353.4,1981.4 1354.5,1995.3 C1355.5,2009.2 1356.9,2027.1 1357.8,2040.0 C1358.7,2053.0 1359.1,2059.7 1360.0,2073.0 C1360.9,2086.3 1362.1,2104.1 1363.3,2119.7 C1364.5,2135.2 1365.7,2150.8 1367.0,2166.3 C1368.2,2181.8 1369.6,2197.3 1371.0,2212.8 C1372.5,2228.3 1374.2,2244.9 1375.7,2259.4 C1377.2,2273.9 1378.6,2286.6 1380.0,2300.0 C1381.5,2313.4 1382.9,2326.7 1384.5,2340.0 C1386.2,2353.3 1387.7,2365.8 1389.7,2379.9 C1391.7,2394.0 1394.2,2409.7 1396.6,2424.6 C1399.0,2439.5 1401.5,2454.3 1404.0,2469.2 C1406.6,2484.1 1409.0,2498.9 1411.8,2513.7 C1414.7,2528.6 1417.8,2544.7 1421.2,2558.2 C1424.5,2571.8 1428.6,2584.6 1432.1,2595.0 C1435.5,2605.5 1439.0,2613.8 1442.0,2621.1 C1445.0,2628.3 1445.8,2631.7 1450.1,2638.5 C1454.5,2645.3 1461.7,2655.7 1467.9,2661.9 C1474.1,2668.2 1481.9,2672.6 1487.3,2675.9 C1492.7,2679.1 1493.0,2679.0 1500.1,2681.3 C1507.3,2683.6 1518.6,2687.3 1530.3,2689.8 C1541.9,2692.3 1556.9,2694.8 1570.1,2696.2 C1583.4,2697.7 1596.7,2698.2 1610.0,2698.4 C1623.3,2698.7 1636.7,2698.2 1650.0,2697.8 C1663.3,2697.3 1680.4,2696.5 1689.9,2695.8 C1699.4,2695.1 1701.6,2693.2 1707.0,2693.5 C1712.4,2693.8 1713.2,2697.0 1722.0,2697.5 C1730.8,2697.9 1743.7,2696.5 1760.0,2696.2 C1776.3,2695.8 1798.8,2695.3 1820.0,2695.1 C1841.2,2694.9 1875.8,2694.9 1887.0,2694.8" fill="none" stroke="#000000" stroke-width="11.8" stroke-linejoin="round" stroke-linecap="butt"/>
<path d="M302.4,2616.6 C308.6,2616.4 325.1,2615.9 339.5,2615.5 C353.9,2615.0 374.6,2613.5 389.0,2614.1 C403.4,2614.7 415.0,2617.6 426.2,2619.3 C437.3,2620.9 449.0,2624.2 456.0,2624.0 C463.0,2623.8 463.1,2618.5 468.4,2617.8 C473.7,2617.1 476.5,2618.2 488.1,2620.0 C499.6,2621.7 521.3,2625.9 537.8,2628.4 C554.4,2630.8 572.1,2633.6 587.3,2634.7 C602.6,2635.9 614.2,2635.9 629.4,2635.3 C644.7,2634.7 662.4,2632.8 679.0,2631.2 C695.5,2629.5 712.1,2627.3 728.6,2625.3 C745.1,2623.3 761.7,2621.1 778.2,2619.1 C794.7,2617.1 812.1,2615.0 827.7,2613.2 C843.4,2611.4 858.9,2609.2 872.0,2608.5 C885.1,2607.8 895.0,2610.5 906.3,2608.9 C917.6,2607.3 930.9,2601.9 940.0,2598.8 C949.2,2595.6 954.7,2592.5 961.2,2589.8 C967.7,2587.1 973.1,2584.9 979.0,2582.5 C985.0,2580.2 991.0,2578.3 996.9,2575.6 C1002.9,2572.9 1009.0,2570.2 1014.9,2566.4 C1020.9,2562.7 1026.6,2558.8 1032.6,2553.4 C1038.6,2547.9 1044.6,2541.4 1050.8,2533.7 C1057.0,2526.0 1064.5,2514.8 1069.7,2507.1 C1074.8,2499.5 1077.1,2495.8 1081.7,2487.8 C1086.3,2479.9 1091.7,2470.0 1097.3,2459.3 C1102.9,2448.6 1109.0,2433.9 1115.2,2423.6 C1121.3,2413.3 1128.2,2403.2 1134.0,2397.6 C1139.8,2391.9 1143.6,2391.6 1150.1,2389.7 C1156.7,2387.8 1166.6,2387.6 1173.2,2386.2 C1179.8,2384.8 1185.0,2383.7 1189.8,2381.1 C1194.5,2378.6 1198.1,2375.9 1201.8,2371.1 C1205.5,2366.3 1207.8,2363.1 1212.1,2352.3 C1216.4,2341.5 1222.9,2321.6 1227.6,2306.2 C1232.3,2290.8 1236.4,2275.2 1240.4,2259.7 C1244.3,2244.2 1247.9,2228.6 1251.3,2213.1 C1254.8,2197.6 1257.9,2181.4 1261.0,2166.7 C1264.1,2152.0 1266.6,2139.5 1269.8,2124.9 C1272.9,2110.3 1276.0,2094.9 1279.6,2079.1 C1283.3,2063.2 1288.5,2041.0 1291.8,2029.8 C1295.1,2018.6 1296.8,2016.5 1299.3,2011.9 C1301.8,2007.2 1304.4,2002.0 1306.9,2002.0 C1309.4,2002.0 1311.8,2007.4 1314.2,2011.6 C1316.6,2015.7 1318.2,2016.8 1321.2,2027.1 C1324.2,2037.4 1329.1,2057.8 1332.3,2073.3 C1335.5,2088.7 1337.8,2104.2 1340.2,2119.7 C1342.6,2135.2 1344.7,2150.8 1346.8,2166.3 C1348.9,2181.8 1351.0,2197.3 1352.9,2212.8 C1354.8,2228.3 1356.7,2244.9 1358.3,2259.4 C1359.9,2274.0 1361.1,2286.5 1362.6,2300.0 C1364.1,2313.4 1365.3,2325.8 1367.2,2340.0 C1369.0,2354.1 1371.4,2370.8 1373.5,2384.9 C1375.7,2399.0 1377.7,2410.6 1380.1,2424.6 C1382.5,2438.7 1385.1,2454.3 1387.7,2469.2 C1390.3,2484.1 1392.6,2498.9 1395.5,2513.7 C1398.3,2528.6 1401.4,2544.7 1404.8,2558.2 C1408.1,2571.8 1411.6,2584.0 1415.6,2595.0 C1419.7,2606.1 1424.5,2616.3 1429.2,2624.4 C1433.9,2632.4 1438.2,2637.6 1444.0,2643.3 C1449.8,2648.9 1458.2,2654.3 1464.2,2658.2 C1470.1,2662.0 1473.5,2663.2 1479.5,2666.4 C1485.6,2669.5 1492.0,2673.3 1500.5,2677.1 C1509.0,2680.9 1519.0,2685.8 1530.6,2689.0 C1542.2,2692.3 1556.9,2695.0 1570.2,2696.6 C1583.4,2698.3 1596.7,2698.7 1610.0,2698.9 C1623.3,2699.2 1636.7,2698.7 1650.0,2698.3 C1663.3,2697.8 1680.4,2697.0 1689.9,2696.3 C1699.4,2695.6 1701.6,2693.7 1707.0,2694.0 C1712.4,2694.3 1713.2,2697.5 1722.0,2698.0 C1730.8,2698.4 1743.7,2697.0 1760.0,2696.7 C1776.3,2696.3 1798.8,2695.8 1820.0,2695.6 C1841.2,2695.4 1875.8,2695.4 1887.0,2695.3" fill="none" stroke="#ff0000" stroke-width="11.8" stroke-linejoin="round" stroke-linecap="butt"/>
<path d="M302.4,2606.7 C308.6,2605.8 325.2,2602.9 339.6,2601.2 C354.0,2599.5 374.6,2597.5 389.1,2596.6 C403.5,2595.8 415.0,2595.9 426.2,2595.9 C437.4,2596.0 449.0,2597.5 456.0,2596.8 C463.0,2596.1 463.0,2592.1 468.4,2591.8 C473.8,2591.5 476.6,2592.8 488.1,2594.8 C499.7,2596.8 521.2,2601.2 537.8,2603.9 C554.3,2606.6 572.1,2609.6 587.4,2610.9 C602.7,2612.2 614.2,2612.3 629.4,2611.8 C644.7,2611.2 662.4,2609.3 679.0,2607.6 C695.5,2605.9 712.1,2603.6 728.6,2601.7 C745.2,2599.9 761.8,2597.9 778.3,2596.5 C794.8,2595.0 812.1,2593.1 827.7,2593.0 C843.3,2592.9 858.9,2595.2 872.0,2595.9 C885.1,2596.7 894.9,2597.4 906.3,2597.5 C917.8,2597.6 931.5,2597.1 940.6,2596.6 C949.7,2596.0 954.5,2595.0 960.9,2594.2 C967.3,2593.5 972.9,2592.9 979.0,2592.3 C985.0,2591.6 991.1,2591.2 997.1,2590.3 C1003.2,2589.3 1009.2,2588.2 1015.2,2586.7 C1021.2,2585.1 1027.2,2583.4 1033.2,2580.8 C1039.2,2578.3 1045.1,2575.5 1051.1,2571.6 C1057.0,2567.7 1063.4,2562.5 1069.0,2557.2 C1074.6,2551.9 1078.8,2546.7 1084.7,2539.8 C1090.7,2532.9 1099.0,2522.4 1104.9,2515.8 C1110.7,2509.2 1114.3,2505.3 1119.8,2500.4 C1125.3,2495.5 1132.3,2489.6 1137.8,2486.3 C1143.4,2483.1 1147.8,2482.1 1153.1,2481.0 C1158.4,2479.9 1165.1,2480.2 1169.5,2479.7 C1173.9,2479.1 1174.4,2479.8 1179.6,2477.7 C1184.8,2475.5 1195.3,2470.3 1200.6,2466.8 C1206.0,2463.3 1207.8,2461.2 1211.4,2456.7 C1215.0,2452.2 1218.5,2446.6 1222.2,2439.7 C1225.9,2432.8 1229.9,2423.5 1233.7,2415.4 C1237.4,2407.2 1242.1,2396.8 1244.6,2390.8 C1247.2,2384.9 1246.0,2388.5 1249.1,2379.7 C1252.1,2370.9 1258.4,2351.5 1262.9,2338.1 C1267.4,2324.7 1271.6,2311.0 1275.9,2299.1 C1280.1,2287.2 1284.7,2274.5 1288.5,2266.5 C1292.2,2258.6 1295.1,2255.0 1298.2,2251.3 C1301.4,2247.5 1304.3,2244.3 1307.2,2244.0 C1310.1,2243.7 1312.9,2247.3 1315.4,2249.7 C1317.9,2252.2 1319.1,2251.8 1322.1,2258.7 C1325.0,2265.6 1329.6,2278.7 1333.1,2290.9 C1336.5,2303.2 1339.8,2318.3 1342.7,2332.3 C1345.7,2346.3 1347.9,2359.6 1350.7,2375.0 C1353.5,2390.3 1356.8,2408.9 1359.7,2424.6 C1362.7,2440.3 1365.4,2454.3 1368.4,2469.2 C1371.4,2484.1 1374.4,2498.9 1377.7,2513.7 C1380.9,2528.6 1384.5,2544.7 1388.1,2558.3 C1391.8,2571.8 1395.2,2584.0 1399.3,2595.0 C1403.5,2606.1 1408.1,2616.4 1412.9,2624.4 C1417.6,2632.4 1421.8,2637.5 1427.9,2642.8 C1434.0,2648.1 1440.8,2652.0 1449.4,2656.2 C1457.9,2660.5 1470.8,2664.9 1479.3,2668.6 C1487.8,2672.2 1491.9,2674.6 1500.5,2678.2 C1509.0,2681.7 1519.0,2686.6 1530.6,2689.7 C1542.2,2692.9 1556.9,2695.5 1570.2,2697.2 C1583.4,2698.8 1596.7,2699.2 1610.0,2699.4 C1623.3,2699.7 1636.7,2699.2 1650.0,2698.8 C1663.3,2698.3 1680.4,2697.5 1689.9,2696.8 C1699.4,2696.1 1701.6,2694.2 1707.0,2694.5 C1712.4,2694.8 1713.2,2698.0 1722.0,2698.5 C1730.8,2698.9 1743.7,2697.5 1760.0,2697.2 C1776.3,2696.8 1798.8,2696.3 1820.0,2696.1 C1841.2,2695.9 1875.8,2695.9 1887.0,2695.8" fill="none" stroke="#00ff00" stroke-width="11.8" stroke-linejoin="round" stroke-linecap="butt"/>
<path d="M302.4,2599.3 C308.6,2597.8 325.2,2593.1 339.7,2590.1 C354.1,2587.0 374.8,2583.0 389.2,2580.9 C403.6,2578.8 415.1,2578.4 426.2,2577.4 C437.3,2576.5 448.4,2576.0 455.8,2575.1 C463.2,2574.2 465.4,2572.0 470.8,2572.0 C476.2,2572.0 477.0,2572.8 488.1,2574.9 C499.3,2576.9 521.2,2581.5 537.7,2584.4 C554.2,2587.3 572.1,2590.7 587.4,2592.0 C602.7,2593.4 614.1,2593.4 629.4,2592.6 C644.6,2591.8 662.5,2589.1 679.0,2587.2 C695.6,2585.3 712.1,2583.0 728.7,2581.3 C745.2,2579.6 761.7,2577.3 778.2,2577.0 C794.7,2576.7 811.9,2578.3 827.6,2579.7 C843.2,2581.1 858.9,2583.2 872.0,2585.1 C885.1,2587.1 894.6,2589.2 906.1,2591.5 C917.6,2593.8 931.8,2597.2 941.0,2599.0 C950.1,2600.9 954.5,2601.5 960.8,2602.6 C967.1,2603.6 972.9,2604.5 979.0,2605.4 C985.0,2606.4 991.2,2607.5 997.3,2608.2 C1003.3,2608.9 1009.3,2609.8 1015.3,2609.8 C1021.3,2609.8 1027.4,2609.2 1033.4,2608.2 C1039.4,2607.2 1045.3,2606.1 1051.3,2604.0 C1057.3,2601.9 1064.7,2598.2 1069.5,2595.7 C1074.3,2593.2 1074.0,2592.9 1079.9,2588.8 C1085.7,2584.7 1098.1,2575.6 1104.8,2571.3 C1111.4,2566.9 1114.3,2565.4 1119.7,2562.7 C1125.1,2560.0 1131.6,2557.1 1137.1,2555.3 C1142.7,2553.4 1147.6,2552.2 1153.0,2551.8 C1158.4,2551.4 1165.0,2552.8 1169.5,2552.6 C1174.0,2552.4 1174.7,2552.6 1179.8,2550.9 C1184.9,2549.2 1194.8,2545.5 1200.2,2542.4 C1205.6,2539.2 1208.2,2536.2 1212.0,2532.2 C1215.7,2528.2 1218.9,2523.4 1222.5,2518.2 C1226.1,2513.1 1229.9,2507.1 1233.6,2501.2 C1237.2,2495.4 1240.7,2489.3 1244.3,2483.0 C1247.9,2476.8 1251.5,2470.2 1255.1,2463.7 C1258.7,2457.3 1262.2,2450.8 1265.9,2444.4 C1269.6,2438.0 1273.5,2430.8 1277.2,2425.5 C1281.0,2420.2 1285.1,2415.4 1288.4,2412.4 C1291.7,2409.4 1294.1,2408.7 1297.1,2407.4 C1300.2,2406.0 1304.0,2404.1 1306.7,2404.5 C1309.4,2404.9 1311.1,2407.1 1313.5,2409.6 C1315.9,2412.1 1317.8,2413.1 1321.1,2419.3 C1324.4,2425.6 1329.3,2436.5 1333.2,2447.3 C1337.1,2458.0 1340.9,2471.7 1344.6,2484.0 C1348.3,2496.3 1352.0,2509.9 1355.5,2521.0 C1359.1,2532.2 1362.0,2540.9 1365.7,2550.8 C1369.4,2560.7 1373.7,2571.4 1377.7,2580.5 C1381.7,2589.6 1385.4,2597.4 1389.9,2605.5 C1394.4,2613.6 1399.7,2622.4 1404.7,2629.2 C1409.8,2636.0 1413.9,2640.9 1420.1,2646.2 C1426.3,2651.5 1434.7,2657.0 1441.9,2660.9 C1449.2,2664.8 1457.3,2667.1 1463.6,2669.4 C1469.9,2671.6 1473.6,2672.4 1479.7,2674.5 C1485.8,2676.6 1491.8,2679.2 1500.3,2682.0 C1508.7,2684.7 1518.7,2688.5 1530.3,2691.1 C1542.0,2693.6 1556.8,2695.9 1570.1,2697.3 C1583.4,2698.7 1596.7,2699.2 1610.0,2699.4 C1623.3,2699.7 1636.7,2699.2 1650.0,2698.8 C1663.3,2698.3 1680.4,2697.5 1689.9,2696.8 C1699.4,2696.1 1701.6,2694.2 1707.0,2694.5 C1712.4,2694.8 1713.2,2698.0 1722.0,2698.5 C1730.8,2698.9 1743.7,2697.5 1760.0,2697.2 C1776.3,2696.8 1798.8,2696.3 1820.0,2696.1 C1841.2,2695.9 1875.8,2695.9 1887.0,2695.8" fill="none" stroke="#0000ff" stroke-width="11.8" stroke-linejoin="round" stroke-linecap="butt"/>
<path d="M302.4,2593.0 C308.6,2591.1 325.3,2585.4 339.7,2581.5 C354.2,2577.6 374.8,2572.5 389.2,2569.5 C403.6,2566.5 412.6,2565.4 426.2,2563.5 C439.8,2561.7 460.5,2558.9 470.8,2558.4 C481.1,2557.9 477.0,2558.5 488.1,2560.3 C499.3,2562.0 521.0,2566.0 537.6,2568.8 C554.2,2571.5 572.1,2574.9 587.5,2576.7 C602.8,2578.5 614.3,2580.3 629.5,2579.5 C644.7,2578.7 662.4,2574.2 679.0,2571.7 C695.5,2569.3 712.2,2566.7 728.8,2564.9 C745.3,2563.1 761.8,2560.4 778.2,2560.9 C794.6,2561.4 811.8,2564.8 827.4,2567.7 C843.0,2570.5 858.7,2574.6 871.8,2578.1 C885.0,2581.7 894.8,2585.1 906.3,2589.0 C917.7,2592.8 931.6,2597.8 940.7,2601.1 C949.7,2604.4 954.4,2606.4 960.8,2608.9 C967.2,2611.3 973.1,2613.7 979.1,2615.8 C985.2,2617.9 991.1,2619.8 997.2,2621.6 C1003.2,2623.4 1009.4,2625.1 1015.4,2626.4 C1021.5,2627.7 1027.5,2628.6 1033.5,2629.3 C1039.6,2630.0 1045.7,2630.2 1051.7,2630.5 C1057.7,2630.7 1065.1,2630.7 1069.8,2630.8 C1074.5,2630.9 1074.4,2632.0 1080.0,2631.0 C1085.6,2630.0 1097.0,2626.8 1103.7,2625.0 C1110.4,2623.2 1114.8,2621.5 1120.3,2620.1 C1125.8,2618.7 1131.0,2616.7 1136.5,2616.5 C1142.0,2616.3 1147.6,2618.3 1153.1,2619.0 C1158.6,2619.6 1164.0,2620.4 1169.5,2620.3 C1175.0,2620.2 1180.4,2619.6 1185.8,2618.5 C1191.3,2617.4 1196.8,2615.9 1202.3,2613.8 C1207.8,2611.7 1213.4,2608.9 1218.9,2606.0 C1224.4,2603.0 1229.9,2599.6 1235.4,2596.0 C1240.9,2592.5 1246.4,2588.6 1251.9,2584.5 C1257.4,2580.5 1263.0,2575.9 1268.6,2571.6 C1274.2,2567.4 1281.0,2562.0 1285.6,2559.1 C1290.2,2556.2 1292.8,2555.2 1296.3,2554.1 C1299.8,2553.0 1302.6,2551.2 1306.7,2552.4 C1310.8,2553.6 1316.0,2557.2 1321.0,2561.5 C1326.0,2565.8 1331.5,2571.7 1336.7,2578.1 C1341.8,2584.5 1346.8,2592.5 1351.8,2600.1 C1356.9,2607.7 1362.1,2616.3 1367.2,2623.6 C1372.3,2630.9 1377.4,2638.3 1382.4,2644.0 C1387.5,2649.7 1391.6,2653.8 1397.7,2657.8 C1403.9,2661.9 1410.9,2665.4 1419.4,2668.3 C1427.9,2671.1 1438.7,2673.0 1448.7,2675.0 C1458.8,2677.0 1471.1,2678.5 1479.7,2680.2 C1488.2,2681.9 1491.7,2683.1 1500.1,2685.2 C1508.6,2687.2 1518.5,2690.3 1530.2,2692.5 C1541.9,2694.6 1556.8,2696.7 1570.1,2698.0 C1583.4,2699.2 1596.7,2699.7 1610.0,2699.9 C1623.3,2700.2 1636.7,2699.7 1650.0,2699.3 C1663.3,2698.8 1680.4,2698.0 1689.9,2697.3 C1699.4,2696.6 1701.6,2694.7 1707.0,2695.0 C1712.4,2695.3 1713.2,2698.5 1722.0,2699.0 C1730.8,2699.4 1743.7,2698.0 1760.0,2697.7 C1776.3,2697.3 1798.8,2696.8 1820.0,2696.6 C1841.2,2696.4 1875.8,2696.4 1887.0,2696.3" fill="none" stroke="#00ffff" stroke-width="11.8" stroke-linejoin="round" stroke-linecap="butt"/>
<path d="M302.4,2587.7 C308.6,2585.3 325.3,2578.4 339.8,2573.5 C354.3,2568.6 375.0,2562.0 389.4,2558.3 C403.8,2554.5 412.7,2553.2 426.3,2551.0 C439.8,2548.9 452.2,2544.7 470.8,2545.5 C489.4,2546.3 518.2,2553.0 537.6,2555.8 C557.1,2558.7 572.0,2561.0 587.3,2562.8 C602.7,2564.6 614.2,2567.5 629.5,2566.6 C644.8,2565.7 662.4,2560.4 678.9,2557.6 C695.5,2554.9 712.3,2552.0 728.8,2550.1 C745.4,2548.3 761.8,2545.6 778.2,2546.8 C794.6,2548.0 811.6,2553.3 827.2,2557.3 C842.9,2561.3 858.8,2566.3 871.9,2570.8 C885.0,2575.4 894.4,2579.3 905.8,2584.5 C917.3,2589.8 931.3,2597.2 940.5,2602.1 C949.7,2607.1 954.4,2610.4 960.9,2614.2 C967.3,2618.0 973.1,2621.6 979.2,2624.9 C985.3,2628.1 991.3,2631.2 997.4,2633.9 C1003.4,2636.7 1009.4,2639.1 1015.5,2641.2 C1021.5,2643.3 1027.5,2645.1 1033.6,2646.6 C1039.7,2648.1 1045.7,2649.3 1051.8,2650.2 C1057.8,2651.2 1063.8,2651.8 1069.8,2652.4 C1075.8,2653.1 1078.3,2653.3 1088.0,2654.0 C1097.7,2654.8 1113.4,2656.1 1128.0,2656.9 C1142.7,2657.7 1160.0,2659.3 1176.0,2658.8 C1192.0,2658.3 1209.9,2655.9 1223.8,2653.9 C1237.8,2652.0 1249.5,2649.3 1259.8,2647.2 C1270.0,2645.0 1277.4,2642.8 1285.2,2641.1 C1293.1,2639.5 1302.0,2637.8 1306.9,2637.5 C1311.8,2637.2 1309.8,2637.6 1314.8,2639.1 C1319.8,2640.7 1329.5,2643.8 1336.9,2646.7 C1344.4,2649.6 1352.0,2653.2 1359.5,2656.5 C1367.0,2659.8 1374.5,2663.5 1382.0,2666.2 C1389.4,2669.0 1395.6,2671.2 1404.3,2673.2 C1412.9,2675.2 1421.3,2676.5 1433.9,2678.3 C1446.5,2680.1 1468.8,2682.7 1479.8,2684.3 C1490.8,2685.9 1491.7,2686.4 1500.1,2688.0 C1508.4,2689.6 1518.4,2692.0 1530.1,2693.8 C1541.8,2695.6 1556.8,2697.5 1570.1,2698.6 C1583.4,2699.7 1596.7,2700.2 1610.0,2700.4 C1623.3,2700.7 1636.7,2700.2 1650.0,2699.8 C1663.3,2699.3 1680.4,2698.5 1689.9,2697.8 C1699.4,2697.1 1701.6,2695.2 1707.0,2695.5 C1712.4,2695.8 1713.2,2699.0 1722.0,2699.5 C1730.8,2699.9 1743.7,2698.5 1760.0,2698.2 C1776.3,2697.8 1798.8,2697.3 1820.0,2697.1 C1841.2,2696.9 1875.8,2696.9 1887.0,2696.8" fill="none" stroke="#ff00ff" stroke-width="11.8" stroke-linejoin="round" stroke-linecap="butt"/>
<path d="M302.4,2584.2 C308.6,2581.8 325.3,2574.9 339.8,2570.0 C354.3,2565.1 375.0,2558.5 389.4,2554.8 C403.8,2551.0 412.7,2549.7 426.3,2547.5 C439.8,2545.4 452.2,2541.2 470.8,2542.0 C489.4,2542.8 518.2,2549.5 537.6,2552.3 C557.1,2555.2 572.0,2557.5 587.3,2559.3 C602.7,2561.1 614.2,2564.0 629.5,2563.1 C644.8,2562.2 662.4,2556.9 678.9,2554.1 C695.5,2551.4 712.3,2548.5 728.8,2546.6 C745.4,2544.8 761.8,2542.1 778.2,2543.3 C794.6,2544.5 811.8,2549.5 827.2,2553.8 C842.7,2558.1 852.4,2560.8 871.2,2569.0 C889.9,2577.2 924.7,2595.1 939.5,2602.8 C954.3,2610.5 953.2,2610.9 960.0,2615.1 C966.8,2619.3 973.5,2624.1 980.2,2628.0 C987.0,2631.9 992.1,2635.0 1000.4,2638.7 C1008.8,2642.3 1020.3,2646.7 1030.2,2650.0 C1040.2,2653.3 1050.1,2655.9 1060.1,2658.4 C1070.0,2661.0 1080.0,2663.3 1090.0,2665.4 C1100.0,2667.5 1110.1,2669.5 1120.1,2671.0 C1130.1,2672.5 1140.0,2673.9 1150.0,2674.4 C1160.0,2674.9 1170.0,2674.2 1180.0,2674.0 C1190.0,2673.8 1200.0,2673.5 1210.0,2673.2 C1220.0,2672.8 1230.0,2672.3 1240.0,2671.8 C1250.0,2671.3 1260.0,2670.7 1270.0,2670.2 C1280.0,2669.7 1291.7,2669.1 1300.0,2668.7 C1308.3,2668.4 1312.6,2667.9 1320.0,2668.1 C1327.4,2668.4 1333.0,2669.0 1344.6,2670.2 C1356.1,2671.3 1374.3,2673.4 1389.2,2675.0 C1404.1,2676.6 1418.7,2678.2 1433.8,2680.0 C1448.9,2681.8 1468.8,2684.1 1479.9,2685.6 C1490.9,2687.1 1491.7,2687.6 1500.1,2689.1 C1508.4,2690.6 1518.4,2692.8 1530.1,2694.5 C1541.7,2696.2 1556.8,2698.0 1570.1,2699.1 C1583.4,2700.2 1596.7,2700.7 1610.0,2700.9 C1623.3,2701.1 1636.7,2700.7 1650.0,2700.3 C1663.3,2699.8 1680.4,2699.0 1689.9,2698.3 C1699.4,2697.6 1701.6,2695.7 1707.0,2696.0 C1712.4,2696.3 1713.2,2699.5 1722.0,2700.0 C1730.8,2700.4 1743.7,2699.0 1760.0,2698.7 C1776.3,2698.3 1798.8,2697.8 1820.0,2697.6 C1841.2,2697.4 1875.8,2697.4 1887.0,2697.3" fill="none" stroke="#8b0000" stroke-width="11.8" stroke-linejoin="round" stroke-linecap="butt"/>
<path d="M302.4,2583.2 C308.6,2580.8 325.3,2573.9 339.8,2569.0 C354.3,2564.1 375.0,2557.5 389.4,2553.8 C403.8,2550.0 412.7,2548.7 426.3,2546.5 C439.8,2544.4 460.5,2541.6 470.8,2541.0 C481.1,2540.4 477.0,2541.3 488.1,2542.9 C499.3,2544.6 521.2,2548.4 537.7,2551.0 C554.2,2553.5 572.1,2556.5 587.3,2558.3 C602.6,2560.2 614.2,2563.0 629.5,2562.1 C644.8,2561.2 662.4,2556.1 678.9,2553.1 C695.5,2550.1 716.4,2546.3 728.7,2544.3 C741.1,2542.3 744.8,2541.2 753.0,2541.0 C761.2,2540.8 765.7,2541.4 778.1,2543.3 C790.5,2545.3 811.7,2548.8 827.2,2552.8 C842.8,2556.7 858.5,2562.0 871.6,2567.0 C884.7,2571.9 894.3,2576.6 905.8,2582.6 C917.3,2588.6 931.4,2597.3 940.6,2602.9 C949.7,2608.5 954.3,2612.0 960.8,2616.2 C967.2,2620.5 973.1,2624.7 979.2,2628.6 C985.3,2632.5 991.3,2636.2 997.4,2639.5 C1003.5,2642.7 1009.6,2645.6 1015.6,2648.1 C1021.6,2650.6 1027.5,2652.4 1033.5,2654.3 C1039.5,2656.2 1045.7,2657.9 1051.7,2659.5 C1057.8,2661.2 1063.8,2662.6 1069.8,2664.2 C1075.8,2665.8 1082.1,2667.6 1087.8,2669.1 C1093.6,2670.5 1093.7,2671.4 1104.4,2672.9 C1115.1,2674.4 1132.1,2676.8 1152.1,2677.9 C1172.0,2678.9 1199.3,2679.0 1224.0,2679.1 C1248.7,2679.2 1279.9,2678.3 1300.0,2678.5 C1320.1,2678.7 1329.7,2679.6 1344.6,2680.3 C1359.5,2681.1 1374.3,2681.8 1389.2,2682.8 C1404.0,2683.9 1422.0,2685.4 1433.8,2686.4 C1445.6,2687.4 1446.5,2687.6 1460.0,2689.1 C1473.4,2690.5 1496.3,2693.3 1514.5,2695.3 C1532.7,2697.2 1553.9,2699.4 1569.1,2700.6 C1584.2,2701.9 1591.8,2702.3 1605.3,2702.5 C1618.8,2702.7 1637.9,2702.2 1650.0,2702.0 C1662.1,2701.8 1670.9,2701.7 1678.0,2701.4 C1685.1,2701.0 1687.7,2700.7 1692.5,2700.1 C1697.4,2699.4 1702.3,2697.3 1707.1,2697.5 C1711.9,2697.7 1714.3,2701.0 1721.6,2701.5 C1728.9,2702.0 1733.7,2700.8 1750.7,2700.4 C1767.7,2700.0 1800.7,2699.3 1823.4,2699.1 C1846.1,2698.8 1876.4,2698.8 1887.0,2698.8" fill="none" stroke="#8800ff" stroke-width="11.8" stroke-linejoin="round" stroke-linecap="butt"/>
<text x="422.8" y="3417.5" font-size="69.5" text-anchor="middle" fill="#000" >400</text>
<text x="716.0" y="3417.5" font-size="69.5" text-anchor="middle" fill="#000" >500</text>
<text x="1009.4" y="3417.5" font-size="69.5" text-anchor="middle" fill="#000" >600</text>
<text x="1302.3" y="3417.5" font-size="69.5" text-anchor="middle" fill="#000" >700</text>
<text x="1593.5" y="3417.5" font-size="69.5" text-anchor="middle" fill="#000" >800</text>
<line x1="264.0" y1="3087.5" x2="264.0" y2="4129.7" stroke="#000" stroke-width="4.2" stroke-linecap="butt"/>
<line x1="262.0" y1="3432.7" x2="1581.0" y2="3432.7" stroke="#000" stroke-width="4.2" stroke-linecap="butt"/>
<line x1="264.0" y1="4127.2" x2="280.6" y2="4127.2" stroke="#000" stroke-width="4.2" stroke-linecap="butt"/>
<line x1="264.0" y1="4011.4" x2="272.5" y2="4011.4" stroke="#000" stroke-width="4.2" stroke-linecap="butt"/>
<line x1="264.0" y1="3895.7" x2="280.6" y2="3895.7" stroke="#000" stroke-width="4.2" stroke-linecap="butt"/>
<line x1="264.0" y1="3779.9" x2="272.5" y2="3779.9" stroke="#000" stroke-width="4.2" stroke-linecap="butt"/>
<line x1="264.0" y1="3664.2" x2="280.6" y2="3664.2" stroke="#000" stroke-width="4.2" stroke-linecap="butt"/>
<line x1="264.0" y1="3548.4" x2="272.5" y2="3548.4" stroke="#000" stroke-width="4.2" stroke-linecap="butt"/>
<line x1="264.0" y1="3432.7" x2="280.6" y2="3432.7" stroke="#000" stroke-width="4.2" stroke-linecap="butt"/>
<line x1="264.0" y1="3316.9" x2="272.5" y2="3316.9" stroke="#000" stroke-width="4.2" stroke-linecap="butt"/>
<line x1="264.0" y1="3201.2" x2="280.6" y2="3201.2" stroke="#000" stroke-width="4.2" stroke-linecap="butt"/>
<line x1="264.0" y1="3085.4" x2="272.5" y2="3085.4" stroke="#000" stroke-width="4.2" stroke-linecap="butt"/>
<line x1="410.0" y1="3417.2" x2="410.0" y2="3448.2" stroke="#000" stroke-width="3.6" stroke-linecap="butt"/>
<line x1="556.2" y1="3424.4" x2="556.2" y2="3441.0" stroke="#000" stroke-width="3.6" stroke-linecap="butt"/>
<line x1="702.4" y1="3417.2" x2="702.4" y2="3448.2" stroke="#000" stroke-width="3.6" stroke-linecap="butt"/>
<line x1="848.6" y1="3424.4" x2="848.6" y2="3441.0" stroke="#000" stroke-width="3.6" stroke-linecap="butt"/>
<line x1="994.8" y1="3417.2" x2="994.8" y2="3448.2" stroke="#000" stroke-width="3.6" stroke-linecap="butt"/>
<line x1="1141.0" y1="3424.4" x2="1141.0" y2="3441.0" stroke="#000" stroke-width="3.6" stroke-linecap="butt"/>
<line x1="1287.2" y1="3417.2" x2="1287.2" y2="3448.2" stroke="#000" stroke-width="3.6" stroke-linecap="butt"/>
<line x1="1433.4" y1="3424.4" x2="1433.4" y2="3441.0" stroke="#000" stroke-width="3.6" stroke-linecap="butt"/>
<line x1="1579.6" y1="3417.2" x2="1579.6" y2="3448.2" stroke="#000" stroke-width="3.6" stroke-linecap="butt"/>
<text x="233.5" y="3223.2" font-size="70.5" text-anchor="end" fill="#000" >0.2</text>
<text x="233.5" y="3454.7" font-size="70.5" text-anchor="end" fill="#000" >0.0</text>
<text x="240.5" y="3686.2" font-size="70.5" text-anchor="end" fill="#000" >-0.2</text>
<text x="240.8" y="3917.7" font-size="70.5" text-anchor="end" fill="#000" >-0.4</text>
<text x="240.8" y="4149.2" font-size="70.5" text-anchor="end" fill="#000" >-0.6</text>
<text x="1449.0" y="3524.3" font-size="68.0" text-anchor="middle" fill="#000" >Wavelength (nm)</text>
<text transform="translate(102.9,3608) rotate(-90)" font-size="78" text-anchor="middle">Absorbance</text>
<text x="410.5" y="3171.0" font-size="87.0" text-anchor="middle" fill="#000" >c</text>
<text x="1729.0" y="3187.4" font-size="78.0" text-anchor="start" fill="#000" >t (min)</text>
<line x1="1798.5" y1="3262.0" x2="1798.5" y2="3910.0" stroke="#000" stroke-width="2.6" stroke-linecap="butt"/>
<path d="M1793,3264.7 L1803.9,3264.7 L1799.5,3241.2 L1797.5,3241.2 Z" fill="#000"/>
<text x="1821.5" y="3348.5" font-size="78.0" text-anchor="start" fill="#8800ff" >25</text>
<text x="1821.5" y="3431.7" font-size="78.0" text-anchor="start" fill="#8b0000" >20</text>
<text x="1821.5" y="3514.9" font-size="78.0" text-anchor="start" fill="#ff00ff" >15</text>
<text x="1821.5" y="3598.1" font-size="78.0" text-anchor="start" fill="#00ffff" >12</text>
<text x="1821.5" y="3681.3" font-size="78.0" text-anchor="start" fill="#0000ff" >9</text>
<text x="1821.5" y="3764.5" font-size="78.0" text-anchor="start" fill="#00ff00" >6</text>
<text x="1821.5" y="3847.7" font-size="78.0" text-anchor="start" fill="#ff0000" >3</text>
<path d="M271.1,3433.4 C277.5,3435.2 297.0,3441.0 309.6,3444.1 C322.3,3447.1 334.6,3449.7 346.9,3451.8 C359.3,3453.8 375.0,3455.1 383.8,3456.2 C392.7,3457.3 395.1,3459.2 400.0,3458.2 C404.9,3457.2 403.4,3452.5 413.1,3450.2 C422.8,3448.0 442.4,3445.7 458.2,3444.6 C474.0,3443.4 491.2,3443.0 507.7,3443.3 C524.2,3443.6 543.9,3445.5 557.2,3446.4 C570.4,3447.2 576.1,3448.1 587.2,3448.2 C598.4,3448.2 611.1,3448.8 624.0,3446.7 C636.9,3444.6 654.0,3440.1 664.5,3435.3 C675.0,3430.6 679.9,3426.2 687.0,3418.2 C694.0,3410.2 700.9,3398.2 707.1,3387.4 C713.3,3376.6 718.3,3364.8 724.4,3353.4 C730.4,3342.0 737.4,3328.5 743.3,3319.0 C749.1,3309.5 753.0,3303.8 759.6,3296.3 C766.2,3288.8 775.3,3279.7 782.9,3274.0 C790.6,3268.4 798.1,3264.9 805.6,3262.3 C813.0,3259.8 820.5,3258.0 827.9,3258.5 C835.3,3259.0 842.7,3261.6 850.0,3265.5 C857.2,3269.4 863.7,3272.9 871.4,3281.8 C879.0,3290.7 889.2,3306.7 895.9,3319.2 C902.5,3331.7 906.9,3343.8 911.4,3356.9 C916.0,3370.0 919.2,3383.3 923.2,3397.7 C927.1,3412.1 931.1,3429.7 935.2,3443.5 C939.2,3457.4 942.9,3470.1 947.6,3480.9 C952.2,3491.8 957.8,3502.0 963.1,3508.7 C968.3,3515.4 973.9,3518.0 979.2,3521.2 C984.4,3524.3 989.9,3524.7 994.7,3527.6 C999.5,3530.5 1003.3,3531.6 1008.0,3538.6 C1012.7,3545.5 1018.3,3556.2 1022.9,3569.5 C1027.5,3582.9 1031.3,3598.3 1035.4,3618.6 C1039.5,3638.9 1043.5,3664.5 1047.6,3691.2 C1051.6,3717.8 1055.8,3749.4 1059.7,3778.5 C1063.7,3807.6 1067.4,3836.7 1071.4,3865.8 C1075.3,3894.9 1079.3,3925.5 1083.3,3953.2 C1087.3,3980.8 1092.2,4012.2 1095.5,4031.7 C1098.7,4051.1 1100.5,4065.7 1102.8,4070.0 C1105.1,4074.3 1107.2,4062.5 1109.1,4057.6 C1110.9,4052.6 1111.5,4055.3 1113.9,4040.3 C1116.3,4025.3 1120.3,3994.3 1123.4,3967.7 C1126.5,3941.0 1129.6,3909.5 1132.5,3880.4 C1135.4,3851.3 1138.0,3824.5 1140.9,3793.0 C1143.8,3761.4 1147.2,3722.6 1150.0,3691.1 C1152.7,3659.6 1154.9,3632.9 1157.3,3603.8 C1159.7,3574.7 1162.2,3543.2 1164.5,3516.5 C1166.7,3489.8 1168.6,3465.3 1170.7,3443.7 C1172.7,3422.2 1174.1,3408.6 1176.8,3387.2 C1179.6,3365.7 1183.4,3337.2 1187.0,3314.9 C1190.6,3292.5 1193.9,3270.6 1198.2,3253.2 C1202.6,3235.8 1208.5,3219.5 1213.2,3210.3 C1217.9,3201.1 1222.3,3200.5 1226.5,3198.0 C1230.6,3195.4 1232.9,3193.4 1238.2,3195.1 C1243.5,3196.8 1253.3,3204.3 1258.5,3207.9 C1263.7,3211.5 1265.9,3213.2 1269.3,3216.7 C1272.8,3220.1 1274.6,3222.0 1279.1,3228.4 C1283.5,3234.8 1288.9,3243.3 1296.2,3255.1 C1303.5,3266.9 1313.9,3284.4 1322.9,3299.0 C1331.9,3313.6 1340.9,3329.3 1350.1,3342.5 C1359.3,3355.6 1369.1,3368.7 1377.9,3377.8 C1386.7,3386.9 1394.6,3392.3 1403.1,3397.0 C1411.6,3401.8 1415.9,3403.5 1429.0,3406.4 C1442.1,3409.4 1464.0,3412.7 1481.5,3414.6 C1499.1,3416.6 1517.9,3417.4 1534.3,3418.2 C1550.7,3419.0 1572.4,3419.3 1580.0,3419.5" fill="none" stroke="#ff0000" stroke-width="11.0" stroke-linejoin="round" stroke-linecap="butt"/>
<path d="M271.1,3443.3 C277.5,3445.5 297.0,3452.5 309.7,3456.5 C322.3,3460.5 334.6,3464.0 346.9,3467.3 C359.3,3470.5 374.9,3473.9 383.8,3476.1 C392.6,3478.4 395.1,3481.1 400.0,3480.5 C404.9,3479.9 403.5,3474.8 413.1,3472.7 C422.8,3470.5 442.4,3468.6 458.2,3467.5 C473.9,3466.4 492.4,3466.4 507.7,3466.1 C523.0,3465.7 536.7,3464.6 550.0,3465.2 C563.3,3465.8 574.9,3468.3 587.3,3469.6 C599.6,3470.8 613.2,3473.6 624.3,3472.7 C635.4,3471.8 645.2,3467.8 653.8,3464.2 C662.5,3460.5 669.3,3456.6 676.2,3450.7 C683.0,3444.8 689.0,3437.3 695.1,3428.7 C701.2,3420.2 706.9,3409.3 712.5,3399.4 C718.1,3389.5 723.0,3379.8 728.9,3369.5 C734.8,3359.2 741.0,3348.2 748.0,3337.5 C755.1,3326.8 763.4,3314.8 771.2,3305.3 C778.9,3295.8 786.8,3287.3 794.5,3280.6 C802.2,3273.9 809.9,3268.9 817.4,3265.0 C824.9,3261.0 832.2,3259.0 839.7,3256.7 C847.3,3254.5 855.2,3250.3 862.7,3251.6 C870.2,3252.9 879.1,3260.1 884.9,3264.5 C890.6,3269.0 894.1,3273.5 897.4,3278.3 C900.6,3283.2 901.0,3285.9 904.5,3293.9 C908.0,3301.8 913.4,3314.8 918.3,3325.9 C923.1,3337.0 928.4,3349.5 933.7,3360.5 C939.0,3371.6 944.6,3384.4 950.0,3392.2 C955.5,3400.1 960.4,3404.0 966.2,3407.3 C972.1,3410.7 979.5,3410.9 985.2,3412.5 C990.9,3414.1 995.5,3414.0 1000.3,3417.0 C1005.1,3420.0 1009.2,3422.5 1014.0,3430.5 C1018.8,3438.4 1023.9,3449.2 1029.0,3464.5 C1034.1,3479.9 1039.6,3501.6 1044.7,3522.4 C1049.8,3543.2 1055.0,3568.4 1059.5,3589.3 C1063.9,3610.1 1067.4,3628.1 1071.4,3647.5 C1075.4,3666.9 1079.3,3687.2 1083.3,3705.6 C1087.4,3724.0 1092.4,3744.9 1095.7,3757.8 C1099.0,3770.7 1100.6,3781.6 1103.4,3782.9 C1106.2,3784.2 1109.0,3776.1 1112.2,3765.6 C1115.5,3755.1 1119.5,3739.8 1122.8,3720.2 C1126.2,3700.5 1129.1,3674.1 1132.1,3647.5 C1135.2,3620.8 1138.2,3589.2 1141.3,3560.1 C1144.4,3531.0 1148.1,3494.6 1150.7,3472.9 C1153.3,3451.2 1154.8,3443.0 1156.8,3430.1 C1158.8,3417.1 1160.5,3408.3 1162.7,3395.0 C1164.9,3381.6 1167.9,3363.4 1170.2,3350.0 C1172.5,3336.7 1173.2,3330.9 1176.5,3314.8 C1179.9,3298.7 1185.5,3270.3 1190.4,3253.4 C1195.3,3236.5 1201.4,3222.6 1205.9,3213.5 C1210.4,3204.5 1212.3,3200.7 1217.5,3199.2 C1222.7,3197.7 1230.2,3201.2 1237.0,3204.3 C1243.8,3207.5 1251.4,3212.5 1258.3,3218.4 C1265.2,3224.2 1272.1,3231.8 1278.4,3239.3 C1284.7,3246.8 1288.7,3252.3 1296.1,3263.3 C1303.5,3274.2 1313.8,3291.1 1322.8,3304.9 C1331.8,3318.8 1341.0,3334.1 1350.2,3346.5 C1359.3,3359.0 1368.9,3371.1 1377.7,3379.7 C1386.5,3388.3 1394.5,3393.5 1403.0,3398.1 C1411.6,3402.7 1415.9,3404.4 1429.0,3407.2 C1442.1,3410.1 1464.0,3413.2 1481.5,3415.1 C1499.1,3417.0 1517.9,3417.8 1534.3,3418.6 C1550.7,3419.3 1572.4,3419.7 1580.0,3419.9" fill="none" stroke="#00ff00" stroke-width="11.0" stroke-linejoin="round" stroke-linecap="butt"/>
<path d="M271.1,3450.8 C277.5,3453.4 297.1,3461.6 309.7,3466.5 C322.3,3471.4 334.4,3475.9 346.8,3480.2 C359.2,3484.6 375.1,3489.8 383.9,3492.8 C392.8,3495.7 395.2,3498.1 400.0,3497.8 C404.8,3497.5 403.1,3492.8 412.8,3490.7 C422.5,3488.6 442.4,3486.5 458.2,3485.2 C474.0,3483.9 491.2,3483.0 507.7,3483.0 C524.2,3483.0 543.9,3484.3 557.1,3485.0 C570.4,3485.7 576.0,3486.3 587.2,3487.1 C598.4,3488.0 613.2,3490.8 624.3,3490.0 C635.4,3489.2 645.1,3485.9 653.8,3482.5 C662.5,3479.0 669.6,3475.0 676.5,3469.5 C683.4,3464.0 689.1,3457.3 695.1,3449.4 C701.1,3441.6 706.7,3431.9 712.3,3422.5 C717.8,3413.0 722.7,3403.3 728.7,3392.6 C734.6,3381.9 741.0,3369.9 748.1,3358.4 C755.1,3347.0 763.5,3334.3 771.1,3323.9 C778.8,3313.5 786.3,3304.4 794.0,3296.0 C801.7,3287.6 809.6,3279.8 817.3,3273.4 C825.1,3267.0 832.7,3261.8 840.3,3257.5 C847.9,3253.3 855.3,3250.5 862.9,3247.7 C870.5,3245.0 880.1,3240.0 885.9,3241.0 C891.7,3242.0 892.7,3247.3 898.0,3253.6 C903.3,3259.9 911.1,3270.0 917.7,3279.0 C924.2,3288.0 931.1,3300.0 937.4,3307.7 C943.7,3315.3 949.5,3320.6 955.7,3324.8 C962.0,3329.0 968.2,3331.9 974.8,3332.7 C981.4,3333.5 989.1,3327.6 995.5,3329.6 C1001.9,3331.6 1007.3,3337.3 1013.3,3344.6 C1019.4,3351.9 1026.5,3363.3 1031.7,3373.4 C1036.8,3383.5 1040.2,3393.5 1044.4,3405.2 C1048.5,3416.9 1052.2,3429.1 1056.7,3443.7 C1061.2,3458.4 1066.6,3477.2 1071.6,3493.1 C1076.6,3509.1 1082.2,3527.5 1086.5,3539.5 C1090.8,3551.6 1094.4,3559.4 1097.2,3565.3 C1100.0,3571.2 1101.4,3573.7 1103.4,3574.7 C1105.4,3575.7 1107.3,3573.3 1109.4,3571.2 C1111.5,3569.0 1112.7,3571.1 1116.0,3561.9 C1119.2,3552.8 1124.7,3534.2 1128.9,3516.3 C1133.0,3498.5 1137.3,3474.8 1141.1,3455.0 C1144.9,3435.1 1147.7,3418.3 1151.6,3397.4 C1155.5,3376.5 1160.3,3349.7 1164.6,3329.4 C1168.9,3309.2 1173.0,3290.9 1177.3,3275.9 C1181.6,3260.9 1185.3,3249.3 1190.5,3239.3 C1195.6,3229.2 1202.1,3220.9 1208.0,3215.4 C1213.9,3210.0 1219.6,3205.8 1225.8,3206.4 C1232.0,3207.0 1238.4,3214.0 1245.3,3219.2 C1252.2,3224.5 1260.2,3231.3 1267.3,3238.1 C1274.5,3245.0 1283.4,3254.6 1288.3,3260.3 C1293.3,3266.0 1291.5,3263.9 1297.2,3272.5 C1303.0,3281.2 1313.9,3299.0 1322.8,3312.2 C1331.6,3325.4 1341.2,3339.9 1350.3,3351.5 C1359.4,3363.1 1368.7,3374.0 1377.5,3382.0 C1386.2,3390.0 1394.4,3395.0 1402.9,3399.4 C1411.5,3403.8 1415.9,3405.5 1429.0,3408.2 C1442.1,3410.9 1464.0,3413.9 1481.5,3415.8 C1499.1,3417.6 1517.9,3418.2 1534.3,3419.0 C1550.7,3419.8 1572.4,3420.1 1580.0,3420.3" fill="none" stroke="#0000ff" stroke-width="11.0" stroke-linejoin="round" stroke-linecap="butt"/>
<path d="M271.1,3455.7 C277.5,3458.8 296.9,3468.4 309.6,3474.2 C322.2,3480.0 334.7,3485.6 347.1,3490.6 C359.5,3495.6 375.1,3500.8 383.9,3503.9 C392.7,3507.0 395.2,3509.2 400.0,3509.0 C404.8,3508.8 402.8,3504.7 412.5,3502.7 C422.2,3500.7 442.3,3498.7 458.2,3497.2 C474.0,3495.8 491.2,3494.1 507.7,3494.1 C524.2,3494.1 543.8,3495.9 557.0,3496.9 C570.3,3498.0 576.1,3499.0 587.3,3500.1 C598.5,3501.3 613.2,3504.6 624.3,3503.6 C635.4,3502.6 645.2,3498.2 653.9,3494.4 C662.6,3490.7 669.6,3486.6 676.5,3481.0 C683.4,3475.5 689.5,3468.6 695.4,3461.1 C701.3,3453.6 706.4,3445.2 712.0,3436.1 C717.5,3427.0 722.7,3417.0 728.7,3406.3 C734.6,3395.6 740.7,3383.9 747.8,3372.1 C754.9,3360.2 763.4,3346.5 771.1,3335.3 C778.7,3324.1 786.0,3314.4 793.7,3304.9 C801.4,3295.3 809.6,3285.8 817.3,3277.8 C825.1,3269.8 832.5,3263.0 840.2,3256.9 C847.8,3250.8 855.6,3245.7 863.2,3241.0 C870.9,3236.4 878.7,3230.4 885.9,3229.0 C893.1,3227.6 900.1,3230.5 906.2,3232.3 C912.3,3234.2 916.7,3236.8 922.5,3239.8 C928.3,3242.9 934.0,3247.5 941.0,3250.5 C948.0,3253.6 955.4,3257.8 964.5,3258.4 C973.6,3259.0 987.1,3253.4 995.5,3254.3 C1003.9,3255.2 1008.0,3259.0 1014.6,3263.8 C1021.3,3268.7 1028.0,3274.6 1035.2,3283.3 C1042.4,3291.9 1051.8,3307.3 1057.6,3315.8 C1063.5,3324.4 1066.7,3329.1 1070.5,3334.6 C1074.3,3340.1 1075.7,3341.7 1080.4,3348.6 C1085.1,3355.6 1094.4,3370.0 1098.7,3376.1 C1103.0,3382.1 1103.2,3384.9 1106.1,3385.0 C1109.0,3385.1 1112.0,3382.3 1116.4,3376.8 C1120.8,3371.2 1127.1,3361.8 1132.5,3351.8 C1137.9,3341.8 1143.5,3328.6 1148.8,3316.6 C1154.1,3304.7 1158.8,3292.1 1164.3,3279.9 C1169.9,3267.7 1176.1,3252.9 1181.9,3243.5 C1187.7,3234.0 1193.5,3227.9 1199.1,3223.2 C1204.7,3218.6 1209.5,3215.3 1215.5,3215.7 C1221.5,3216.1 1228.0,3221.4 1235.0,3225.8 C1241.9,3230.3 1250.0,3236.7 1257.0,3242.3 C1264.1,3247.9 1271.6,3254.6 1277.0,3259.5 C1282.5,3264.4 1286.5,3268.4 1289.7,3271.8 C1292.9,3275.2 1290.7,3272.3 1296.3,3279.9 C1301.8,3287.4 1313.7,3304.7 1322.7,3317.2 C1331.7,3329.7 1341.3,3343.8 1350.4,3354.9 C1359.5,3365.9 1368.6,3376.0 1377.3,3383.5 C1386.1,3391.1 1394.3,3396.1 1402.9,3400.3 C1411.5,3404.5 1415.8,3406.2 1429.0,3408.8 C1442.1,3411.5 1463.9,3414.4 1481.5,3416.2 C1499.1,3417.9 1517.9,3418.6 1534.3,3419.3 C1550.7,3420.0 1572.4,3420.4 1580.0,3420.6" fill="none" stroke="#00ffff" stroke-width="11.0" stroke-linejoin="round" stroke-linecap="butt"/>
<path d="M271.1,3462.2 C277.5,3465.7 296.9,3476.5 309.5,3483.1 C322.2,3489.8 334.8,3496.3 347.2,3502.1 C359.6,3507.8 375.1,3514.2 383.9,3517.8 C392.7,3521.5 395.2,3524.2 400.0,3524.1 C404.8,3524.0 403.1,3519.3 412.8,3517.2 C422.5,3515.0 442.3,3513.1 458.1,3511.2 C473.9,3509.2 491.2,3505.6 507.7,3505.5 C524.2,3505.4 543.5,3509.0 556.8,3510.7 C570.1,3512.4 576.3,3514.2 587.5,3515.9 C598.8,3517.7 612.2,3522.5 624.3,3521.2 C636.4,3519.9 650.2,3513.1 660.2,3508.2 C670.3,3503.3 677.6,3498.0 684.7,3491.7 C691.8,3485.3 697.3,3477.7 702.9,3470.0 C708.5,3462.3 713.0,3454.1 718.1,3445.3 C723.1,3436.5 728.1,3426.6 733.2,3417.1 C738.3,3407.5 743.2,3397.7 748.7,3388.0 C754.1,3378.2 759.6,3368.5 765.8,3358.5 C772.0,3348.4 778.4,3338.6 785.8,3327.9 C793.2,3317.1 804.4,3301.7 810.2,3294.0 C816.0,3286.3 813.8,3288.8 820.6,3281.8 C827.4,3274.8 840.6,3261.4 851.1,3252.1 C861.5,3242.7 873.1,3233.0 883.4,3225.7 C893.7,3218.3 905.2,3209.9 912.9,3208.0 C920.6,3206.1 924.9,3212.4 929.4,3214.1 C933.8,3215.8 933.9,3218.0 939.7,3218.1 C945.5,3218.2 955.2,3216.1 964.5,3214.7 C973.8,3213.4 986.3,3209.8 995.5,3209.9 C1004.7,3210.0 1012.3,3213.1 1019.7,3215.2 C1027.1,3217.3 1033.2,3219.3 1039.8,3222.4 C1046.4,3225.6 1052.4,3229.0 1059.4,3234.0 C1066.4,3238.9 1075.3,3247.4 1081.8,3252.3 C1088.4,3257.2 1093.5,3260.8 1098.6,3263.3 C1103.7,3265.8 1107.4,3267.9 1112.3,3267.3 C1117.2,3266.7 1121.7,3263.4 1128.0,3259.7 C1134.2,3256.0 1142.5,3249.7 1149.7,3245.0 C1156.8,3240.2 1163.8,3234.9 1170.7,3231.4 C1177.6,3227.9 1184.4,3225.1 1191.1,3223.9 C1197.8,3222.7 1204.2,3222.6 1210.9,3223.9 C1217.6,3225.1 1224.6,3227.7 1231.4,3231.4 C1238.1,3235.0 1244.6,3239.8 1251.6,3245.7 C1258.6,3251.7 1267.1,3260.8 1273.5,3267.1 C1280.0,3273.4 1286.6,3279.9 1290.3,3283.6 C1294.0,3287.3 1290.4,3282.7 1295.7,3289.4 C1301.1,3296.1 1313.5,3312.1 1322.7,3323.8 C1331.8,3335.4 1341.4,3349.0 1350.5,3359.3 C1359.5,3369.7 1368.4,3378.6 1377.1,3385.7 C1385.8,3392.7 1394.1,3397.5 1402.8,3401.5 C1411.4,3405.5 1415.8,3407.2 1428.9,3409.7 C1442.1,3412.3 1463.9,3415.1 1481.5,3416.7 C1499.1,3418.4 1517.9,3419.0 1534.3,3419.7 C1550.7,3420.4 1572.4,3420.8 1580.0,3421.0" fill="none" stroke="#ff00ff" stroke-width="11.0" stroke-linejoin="round" stroke-linecap="butt"/>
<path d="M271.1,3464.2 C277.5,3467.7 296.9,3478.5 309.5,3485.1 C322.2,3491.8 334.8,3498.3 347.2,3504.1 C359.6,3509.8 375.1,3516.2 383.9,3519.8 C392.7,3523.5 395.2,3526.2 400.0,3526.1 C404.8,3526.0 403.1,3521.3 412.8,3519.2 C422.5,3517.0 442.3,3515.1 458.1,3513.2 C473.9,3511.2 492.4,3507.9 507.7,3507.5 C523.0,3507.1 536.3,3509.4 549.6,3511.1 C562.9,3512.8 575.1,3515.7 587.6,3517.7 C600.0,3519.7 613.2,3523.7 624.3,3523.2 C635.4,3522.7 645.5,3518.1 654.1,3514.6 C662.8,3511.2 669.4,3507.9 676.3,3502.7 C683.1,3497.4 689.4,3490.6 695.4,3483.2 C701.3,3475.8 706.5,3467.4 712.0,3458.2 C717.5,3449.0 722.5,3439.3 728.5,3428.2 C734.4,3417.1 740.8,3404.4 747.8,3391.7 C754.9,3379.1 763.2,3364.8 770.8,3352.4 C778.4,3340.0 785.5,3329.0 793.3,3317.3 C801.1,3305.7 809.6,3293.0 817.4,3282.6 C825.2,3272.1 832.5,3263.1 840.2,3254.7 C847.9,3246.3 855.9,3238.6 863.6,3232.1 C871.2,3225.6 880.2,3219.6 886.3,3215.6 C892.4,3211.6 895.5,3210.2 900.0,3208.0 C904.5,3205.8 908.6,3204.1 913.2,3202.5 C917.7,3201.0 922.9,3198.4 927.3,3198.6 C931.7,3198.8 933.5,3203.6 939.7,3203.7 C945.9,3203.8 955.3,3200.6 964.6,3199.1 C973.9,3197.5 985.2,3193.8 995.5,3194.4 C1005.8,3195.0 1019.0,3200.6 1026.4,3202.7 C1033.8,3204.7 1032.6,3204.2 1040.0,3206.5 C1047.4,3208.8 1060.2,3213.3 1070.7,3216.6 C1081.1,3219.9 1092.2,3223.9 1102.6,3226.1 C1112.9,3228.4 1122.7,3230.0 1132.9,3230.1 C1143.1,3230.2 1153.6,3228.0 1163.9,3227.0 C1174.2,3226.0 1186.3,3223.0 1194.8,3223.9 C1203.3,3224.8 1208.2,3228.9 1215.0,3232.3 C1221.8,3235.7 1228.8,3239.6 1235.6,3244.4 C1242.5,3249.1 1249.2,3254.8 1256.3,3260.8 C1263.3,3266.8 1271.3,3274.3 1277.8,3280.5 C1284.3,3286.7 1288.0,3289.9 1295.4,3297.9 C1302.9,3306.0 1313.4,3318.4 1322.6,3329.1 C1331.8,3339.7 1341.6,3352.5 1350.6,3361.9 C1359.6,3371.3 1368.1,3379.0 1376.8,3385.4 C1385.5,3391.7 1394.0,3396.3 1402.7,3400.0 C1411.4,3403.8 1415.8,3405.4 1428.9,3407.8 C1442.1,3410.2 1463.9,3412.9 1481.5,3414.4 C1499.0,3416.0 1517.6,3416.5 1534.3,3417.2 C1551.0,3417.9 1573.9,3418.4 1581.8,3418.6" fill="none" stroke="#8b0000" stroke-width="11.0" stroke-linejoin="round" stroke-linecap="butt"/>
<path d="M271.1,3460.7 C277.5,3464.2 296.9,3475.0 309.5,3481.6 C322.2,3488.3 334.8,3494.8 347.2,3500.6 C359.6,3506.3 375.1,3512.7 383.9,3516.3 C392.7,3520.0 395.2,3522.7 400.0,3522.6 C404.8,3522.5 403.1,3517.8 412.8,3515.7 C422.5,3513.5 442.3,3511.6 458.1,3509.7 C473.9,3507.7 492.4,3504.4 507.7,3504.0 C523.0,3503.6 536.3,3505.9 549.6,3507.6 C562.9,3509.3 575.1,3512.2 587.6,3514.2 C600.0,3516.2 613.2,3520.2 624.3,3519.7 C635.4,3519.2 645.5,3514.6 654.1,3511.1 C662.8,3507.7 669.4,3504.4 676.3,3499.2 C683.1,3493.9 689.4,3487.1 695.4,3479.7 C701.3,3472.3 706.5,3463.9 712.0,3454.7 C717.5,3445.5 722.5,3435.8 728.5,3424.7 C734.4,3413.6 740.8,3400.9 747.8,3388.2 C754.9,3375.6 763.1,3361.2 770.8,3348.9 C778.5,3336.6 786.3,3325.1 794.0,3314.3 C801.6,3303.5 809.1,3293.7 816.8,3284.1 C824.5,3274.5 832.4,3265.1 840.2,3256.7 C848.0,3248.4 855.9,3240.6 863.6,3234.1 C871.2,3227.6 880.2,3221.6 886.3,3217.6 C892.4,3213.6 895.5,3212.2 900.0,3210.0 C904.5,3207.8 908.6,3206.1 913.2,3204.5 C917.7,3203.0 922.9,3200.4 927.3,3200.6 C931.7,3200.8 933.5,3205.6 939.7,3205.7 C945.9,3205.8 955.3,3202.6 964.6,3201.1 C973.9,3199.5 985.2,3196.4 995.5,3196.4 C1005.8,3196.4 1018.9,3199.9 1026.3,3201.3 C1033.7,3202.6 1032.6,3202.3 1040.0,3204.5 C1047.4,3206.7 1060.2,3211.3 1070.7,3214.6 C1081.1,3217.9 1092.2,3221.9 1102.6,3224.1 C1112.9,3226.4 1122.7,3228.0 1132.9,3228.1 C1143.1,3228.2 1153.6,3226.0 1163.9,3225.0 C1174.2,3224.0 1186.2,3220.3 1194.8,3221.9 C1203.4,3223.5 1208.7,3230.1 1215.5,3234.3 C1222.3,3238.6 1228.8,3242.5 1235.6,3247.4 C1242.4,3252.3 1249.2,3257.8 1256.3,3263.8 C1263.3,3269.8 1271.3,3277.3 1277.8,3283.5 C1284.3,3289.7 1288.0,3292.9 1295.4,3300.9 C1302.9,3309.0 1313.4,3321.4 1322.6,3332.1 C1331.8,3342.7 1341.6,3355.5 1350.6,3364.9 C1359.6,3374.3 1368.1,3382.0 1376.8,3388.4 C1385.5,3394.7 1394.0,3399.3 1402.7,3403.0 C1411.4,3406.8 1415.8,3408.4 1428.9,3410.8 C1442.1,3413.2 1463.9,3415.9 1481.5,3417.4 C1499.0,3419.0 1517.6,3419.5 1534.3,3420.2 C1551.0,3420.9 1573.9,3421.4 1581.8,3421.6" fill="none" stroke="#8800ff" stroke-width="11.0" stroke-linejoin="round" stroke-linecap="butt"/>
</svg></body></html>
